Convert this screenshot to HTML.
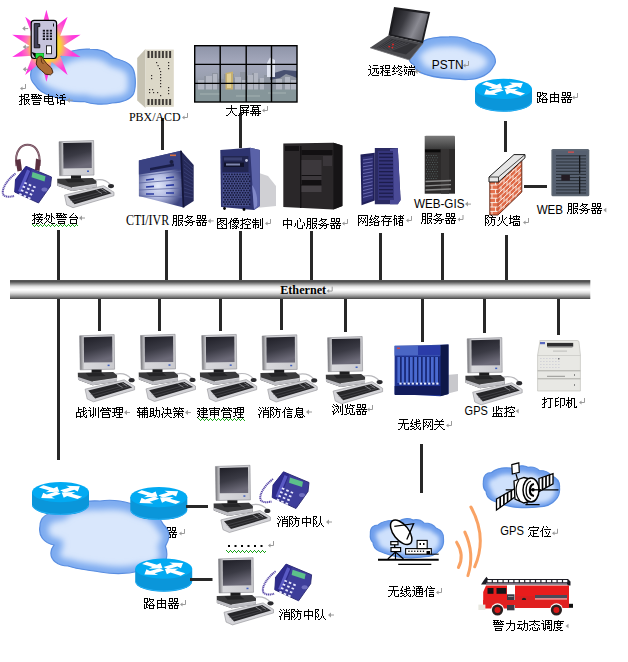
<!DOCTYPE html><html><head><meta charset="utf-8"><title>Network diagram</title><style>html,body{margin:0;padding:0;background:#fff;width:628px;height:662px;overflow:hidden;font-family:"Liberation Sans",sans-serif}</style></head><body><svg width="628" height="662" viewBox="0 0 628 662" style="position:absolute;left:0;top:0;display:block"><defs>
<linearGradient id="gbar" x1="0" y1="0" x2="0" y2="1"><stop offset="0.026" stop-color="#545454"/><stop offset="0.079" stop-color="#505050"/><stop offset="0.132" stop-color="#686868"/><stop offset="0.184" stop-color="#868686"/><stop offset="0.237" stop-color="#a6a6a6"/><stop offset="0.289" stop-color="#c6c6c6"/><stop offset="0.342" stop-color="#dedede"/><stop offset="0.395" stop-color="#ececec"/><stop offset="0.447" stop-color="#f5f5f5"/><stop offset="0.500" stop-color="#fcfcfc"/><stop offset="0.553" stop-color="#f8f8f8"/><stop offset="0.605" stop-color="#eeeeee"/><stop offset="0.658" stop-color="#e2e2e2"/><stop offset="0.711" stop-color="#d0d0d0"/><stop offset="0.763" stop-color="#bababa"/><stop offset="0.816" stop-color="#a2a2a2"/><stop offset="0.868" stop-color="#8a8a8a"/><stop offset="0.921" stop-color="#707070"/><stop offset="0.974" stop-color="#505050"/></linearGradient>
<linearGradient id="gscr" x1="0" y1="0" x2="0.3" y2="1">
 <stop offset="0" stop-color="#1e1e26"/><stop offset="0.55" stop-color="#3a3a44"/><stop offset="1" stop-color="#6c6a78"/>
</linearGradient>
<linearGradient id="gmon" x1="0" y1="0" x2="1" y2="0">
 <stop offset="0" stop-color="#6e6e72"/><stop offset="0.07" stop-color="#a4a4a8"/><stop offset="0.14" stop-color="#d8d8dc"/><stop offset="1" stop-color="#cacace"/>
</linearGradient>
<linearGradient id="gcpu" x1="0" y1="0" x2="0" y2="1">
 <stop offset="0" stop-color="#505052"/><stop offset="1" stop-color="#2a2a2c"/>
</linearGradient>
<radialGradient id="gstar" cx="0.5" cy="0.5" r="0.5">
 <stop offset="0" stop-color="#ffec40"/><stop offset="0.42" stop-color="#f8d038"/>
 <stop offset="0.6" stop-color="#ff78b8"/><stop offset="0.78" stop-color="#ff40d8"/><stop offset="1" stop-color="#ff30e8"/>
</radialGradient>
<linearGradient id="gcti" x1="0" y1="0" x2="1" y2="0">
 <stop offset="0" stop-color="#3a4280"/><stop offset="0.45" stop-color="#b8c0e0"/><stop offset="1" stop-color="#3a4078"/>
</linearGradient>
<linearGradient id="gvw" x1="0" y1="0" x2="0" y2="1">
 <stop offset="0" stop-color="#8e94a8"/><stop offset="0.3" stop-color="#a4a8bc"/><stop offset="0.55" stop-color="#9aa0b0"/>
 <stop offset="0.8" stop-color="#7e8890"/><stop offset="1" stop-color="#8a9898"/>
</linearGradient>
<linearGradient id="gtow" x1="0" y1="0" x2="1" y2="0">
 <stop offset="0" stop-color="#2c3068"/><stop offset="1" stop-color="#3c4488"/>
</linearGradient>
<linearGradient id="ggw" x1="0" y1="0" x2="0" y2="1">
 <stop offset="0" stop-color="#3050a8"/><stop offset="0.5" stop-color="#2040a0"/><stop offset="1" stop-color="#102060"/>
</linearGradient>
<linearGradient id="glap" x1="0" y1="0.2" x2="1" y2="0.6">
 <stop offset="0" stop-color="#18181c"/><stop offset="0.35" stop-color="#3a3a40"/><stop offset="0.7" stop-color="#8a8a92"/><stop offset="1" stop-color="#5a5a60"/>
</linearGradient>
</defs><defs><g id="router"><path d="M0 10.1 V23 A28.5 10.1 0 0 0 57 23 V10.1 Z" fill="#0a96da"/><path d="M0.6 23.6 A28 9.6 0 0 0 56.4 23.6" fill="none" stroke="#2ab2f8" stroke-width="0.9"/><ellipse cx="28.5" cy="10.1" rx="28.5" ry="10.1" fill="#02aaf2"/><polygon points="6.89,5.44 17.13,8.52 13.59,10.26 27.32,9.75 25.29,4.51 21.75,6.25 11.50,3.17" fill="#fff"/><polygon points="28.16,8.37 37.62,5.54 34.08,3.80 47.81,4.31 45.77,9.55 42.23,7.81 32.78,10.64" fill="#fff"/><polygon points="28.84,11.83 19.38,14.66 22.92,16.40 9.19,15.89 11.23,10.65 14.77,12.39 24.22,9.56" fill="#fff"/><polygon points="50.11,14.76 39.87,11.68 43.41,9.94 29.68,10.45 31.71,15.69 35.25,13.95 45.50,17.03" fill="#fff"/></g><g id="pc"><path d="M36 39.5 C44 38 48 40 51.5 44" fill="none" stroke="#b8b8bc" stroke-width="1.2"/><path d="M0 1.2 L34.6 0 L35 34.6 L0.6 35.2 Z" fill="url(#gmon)" stroke="#8a8a90" stroke-width="0.6"/><path d="M4.2 2.6 L32.6 2 L32.8 27.6 L4.4 28 Z" fill="url(#gscr)"/><rect x="28" y="30" width="2" height="1.5" fill="#4060c0"/><path d="M12 35 H22 V39 H12 Z" fill="#1c1c1e"/><path d="M-1.8 38.2 L33.6 37.4 L37.5 40.6 L37.4 46.8 L13 50.6 L-1.6 45.2 Z" fill="#3a3a3c"/><path d="M-1.6 42.4 L13 47.2 L37.4 43.6 L37.4 46.8 L13 50.6 L-1.6 45.2 Z" fill="#bdbdc2"/><path d="M13 47.2 L37.4 43.6" stroke="#e8e8ec" stroke-width="0.8"/><path d="M6 38.5 L22 38.2 L26 41.5 L9 42 Z" fill="#242426"/><path d="M5.5 54.6 L44.6 45.2 L55 51.8 L55 55.2 L14 67.2 L7.6 64.4 Z" fill="#d4d4d8" stroke="#8e8e94" stroke-width="0.6"/><path d="M8.6 56 L43.6 47.4 L52.6 52.8 L15.6 63.8 Z" fill="#262629"/><path d="M11 59.8 L46.5 50.4 M13.2 62 L49.6 51.8" stroke="#5a5a60" stroke-width="0.5"/><path d="M37 49.2 L43 53 M42 48 L47.6 51.6" stroke="#a8a8ae" stroke-width="0.7"/><ellipse cx="52" cy="45.6" rx="3" ry="2.1" fill="#2a2a2e"/></g><g id="phone"><path d="M14 8 C6 14 0 23 1.5 28.5 C3 32 9 31.5 12.5 30.5" fill="none" stroke="#5a4aa8" stroke-width="2" stroke-dasharray="1.2 0.6"/><path d="M24.5 0.8 L50 11.5 L49 20.5 L37 37.5 L13.2 26.5 L14 14 Z" fill="#3e3e9a" stroke="#28266e" stroke-width="0.9"/><path d="M24.5 0.8 L30.5 3.6 L20.2 29.5 L13.2 26.5 L14 14 Z" fill="#2e2c8c"/><path d="M25.6 4 L28.6 5.4 L19.5 27 L16.6 25.6 Z" fill="#5a5ac4"/><path d="M31 6.4 L44 10.7 L43 16 L30 11.8 Z" fill="#5cc08a"/><rect x="23.2" y="16.4" width="2.6" height="1.8" fill="#e8e8ff" transform="rotate(22 23.2 16.4)"/><rect x="27.6" y="18.3" width="2.6" height="1.8" fill="#e8e8ff" transform="rotate(22 27.6 18.3)"/><rect x="32.0" y="20.2" width="2.6" height="1.8" fill="#e8e8ff" transform="rotate(22 32.0 20.2)"/><rect x="21.5" y="20.1" width="2.6" height="1.8" fill="#e8e8ff" transform="rotate(22 21.5 20.1)"/><rect x="25.9" y="22.0" width="2.6" height="1.8" fill="#e8e8ff" transform="rotate(22 25.9 22.0)"/><rect x="30.3" y="23.9" width="2.6" height="1.8" fill="#e8e8ff" transform="rotate(22 30.3 23.9)"/><rect x="19.8" y="23.8" width="2.6" height="1.8" fill="#e8e8ff" transform="rotate(22 19.8 23.8)"/><rect x="24.2" y="25.7" width="2.6" height="1.8" fill="#e8e8ff" transform="rotate(22 24.2 25.7)"/><rect x="28.6" y="27.6" width="2.6" height="1.8" fill="#e8e8ff" transform="rotate(22 28.6 27.6)"/><rect x="18.1" y="27.5" width="2.6" height="1.8" fill="#e8e8ff" transform="rotate(22 18.1 27.5)"/><rect x="22.5" y="29.4" width="2.6" height="1.8" fill="#e8e8ff" transform="rotate(22 22.5 29.4)"/><rect x="26.9" y="31.3" width="2.6" height="1.8" fill="#e8e8ff" transform="rotate(22 26.9 31.3)"/><ellipse cx="43" cy="24" rx="3" ry="2" fill="#7070c0"/></g></defs><clipPath id="cc1"><path d="M31 72 C32 63 44 58 58 58 C66 51 80 48.5 90 49.2 C100 49.2 108 52 113 57.5 C118 60 126 60 131 66 C136 71 136.5 86 133.5 94 C130 100 122 102.5 112 103 C104 105 92 104.5 84 101.5 C76 102 62 100.5 52 96 C44 94 38 90 35 85 C31 81 30 76 31 72 Z"/></clipPath><filter id="cf1" x="-20%" y="-20%" width="140%" height="140%"><feGaussianBlur stdDeviation="3.0"/></filter><path d="M31 72 C32 63 44 58 58 58 C66 51 80 48.5 90 49.2 C100 49.2 108 52 113 57.5 C118 60 126 60 131 66 C136 71 136.5 86 133.5 94 C130 100 122 102.5 112 103 C104 105 92 104.5 84 101.5 C76 102 62 100.5 52 96 C44 94 38 90 35 85 C31 81 30 76 31 72 Z" fill="#d9e7fc"/><g clip-path="url(#cc1)"><path d="M31 72 C32 63 44 58 58 58 C66 51 80 48.5 90 49.2 C100 49.2 108 52 113 57.5 C118 60 126 60 131 66 C136 71 136.5 86 133.5 94 C130 100 122 102.5 112 103 C104 105 92 104.5 84 101.5 C76 102 62 100.5 52 96 C44 94 38 90 35 85 C31 81 30 76 31 72 Z" fill="none" stroke="#7eacf0" stroke-width="16.0" filter="url(#cf1)" transform="translate(0.8 1.2)"/></g><path d="M31 72 C32 63 44 58 58 58 C66 51 80 48.5 90 49.2 C100 49.2 108 52 113 57.5 C118 60 126 60 131 66 C136 71 136.5 86 133.5 94 C130 100 122 102.5 112 103 C104 105 92 104.5 84 101.5 C76 102 62 100.5 52 96 C44 94 38 90 35 85 C31 81 30 76 31 72 Z" fill="none" stroke="#5a8ee0" stroke-width="1.2"/><polygon points="46.4,9.8 51.7,29.6 67.6,16.7 60.2,35.8 80.6,34.7 63.4,45.8 80.6,56.9 60.2,55.8 67.6,74.9 51.7,62.0 46.4,81.8 41.1,62.0 25.2,74.9 32.6,55.8 12.2,56.9 29.4,45.8 12.2,34.7 32.6,35.8 25.2,16.7 41.1,29.6" fill="url(#gstar)"/><rect x="31.2" y="20.3" width="25.4" height="38.2" rx="3" fill="#c6c4dc" stroke="#000" stroke-width="1.2"/><path d="M34.2 23.6 h5.6 v3 h-2 v18 h2 v3.2 h-5.6 z" fill="#404058" stroke="#000" stroke-width="0.8"/><rect x="42.8" y="29.8" width="2.2" height="1.8" fill="#101018"/><rect x="46.3" y="29.8" width="2.2" height="1.8" fill="#101018"/><rect x="49.8" y="29.8" width="2.2" height="1.8" fill="#101018"/><rect x="42.8" y="32.6" width="2.2" height="1.8" fill="#101018"/><rect x="46.3" y="32.6" width="2.2" height="1.8" fill="#101018"/><rect x="49.8" y="32.6" width="2.2" height="1.8" fill="#101018"/><rect x="42.8" y="35.4" width="2.2" height="1.8" fill="#101018"/><rect x="46.3" y="35.4" width="2.2" height="1.8" fill="#101018"/><rect x="49.8" y="35.4" width="2.2" height="1.8" fill="#101018"/><rect x="42.8" y="38.2" width="2.2" height="1.8" fill="#101018"/><rect x="46.3" y="38.2" width="2.2" height="1.8" fill="#101018"/><rect x="49.8" y="38.2" width="2.2" height="1.8" fill="#101018"/><rect x="53" y="23.5" width="0.9" height="3" fill="#000"/><rect x="46.4" y="45.8" width="5" height="8" fill="#fff" stroke="#000" stroke-width="0.8"/><path d="M31.5 52 L35 53 L44 53 L44 58.5 L35.5 58.5 Z" fill="#000"/><rect x="35.6" y="53.2" width="8.2" height="5.4" fill="#20e040"/><path d="M37 58.5 L39.5 56 L42 56.5 L43.5 59.5 L46.5 63.5 L51.5 68 L53 72.5 L50.5 74.8 L45.5 74.2 L41.5 70.5 L38.5 68 L36.2 64 Z" fill="#ac6c36" stroke="#3a1a06" stroke-width="0.9"/><path d="M41 57 L41.5 62 L43.5 64" fill="none" stroke="#3a1a06" stroke-width="0.7"/><path d="M137.2 58 L145.5 49 L145.5 108 L137.2 100.4 Z" fill="#c6c2b2"/><rect x="145.5" y="49.6" width="28.3" height="57.2" fill="#dcd8c8"/><rect x="147.5" y="51" width="2" height="7" fill="#403c38"/><rect x="151.1" y="51" width="2" height="7" fill="#403c38"/><rect x="154.7" y="51" width="2" height="7" fill="#403c38"/><rect x="158.3" y="51" width="2" height="7" fill="#403c38"/><rect x="161.9" y="51" width="2" height="7" fill="#403c38"/><rect x="165.5" y="51" width="2" height="7" fill="#403c38"/><rect x="169.1" y="51" width="2" height="7" fill="#403c38"/><rect x="147.5" y="99" width="2" height="6" fill="#403c38"/><rect x="151.1" y="99" width="2" height="6" fill="#403c38"/><rect x="154.7" y="99" width="2" height="6" fill="#403c38"/><rect x="158.3" y="99" width="2" height="6" fill="#403c38"/><rect x="161.9" y="99" width="2" height="6" fill="#403c38"/><rect x="165.5" y="99" width="2" height="6" fill="#403c38"/><rect x="169.1" y="99" width="2" height="6" fill="#403c38"/><rect x="156.0" y="62.0" width="1.2" height="1.2" fill="#302c28"/><rect x="157.5" y="65.0" width="1.2" height="1.2" fill="#302c28"/><rect x="159.0" y="68.0" width="1.2" height="1.2" fill="#302c28"/><rect x="160.0" y="71.0" width="1.2" height="1.2" fill="#302c28"/><rect x="160.0" y="74.0" width="1.2" height="1.2" fill="#302c28"/><rect x="160.0" y="77.0" width="1.2" height="1.2" fill="#302c28"/><rect x="160.0" y="80.0" width="1.2" height="1.2" fill="#302c28"/><rect x="160.0" y="83.0" width="1.2" height="1.2" fill="#302c28"/><rect x="160.0" y="86.0" width="1.2" height="1.2" fill="#302c28"/><rect x="168.0" y="62.0" width="1.2" height="1.2" fill="#302c28"/><rect x="168.0" y="65.0" width="1.2" height="1.2" fill="#302c28"/><rect x="168.0" y="68.0" width="1.2" height="1.2" fill="#302c28"/><rect x="151.0" y="75.0" width="1.2" height="1.2" fill="#302c28"/><rect x="151.0" y="78.0" width="1.2" height="1.2" fill="#302c28"/><rect x="149.0" y="89.0" width="1.2" height="1.2" fill="#302c28"/><rect x="152.0" y="89.0" width="1.2" height="1.2" fill="#302c28"/><rect x="157.0" y="92.0" width="1.2" height="1.2" fill="#302c28"/><rect x="160.0" y="95.0" width="1.2" height="1.2" fill="#302c28"/><rect x="168.0" y="87.0" width="1.2" height="1.2" fill="#302c28"/><rect x="168.0" y="90.0" width="1.2" height="1.2" fill="#302c28"/><rect x="168.0" y="93.0" width="1.2" height="1.2" fill="#302c28"/><rect x="149.0" y="92.0" width="1.2" height="1.2" fill="#302c28"/><rect x="153.0" y="92.0" width="1.2" height="1.2" fill="#302c28"/><rect x="194.7" y="45.7" width="102.3" height="56.3" fill="url(#gvw)"/><path d="M262 84 L268 78 L274 73 L284 70 L297 71 L297 86 L262 86 Z" fill="#485070"/><path d="M195 84 L198 80 L204 80 L204 76 L212 76 L212 73 L218 73 L218 79 L224 79 L224 74 L234 74 L234 78 L240 78 L240 72 L246 72 L246 76 L252 76 L252 73 L258 73 L258 79 L264 79 L264 75 L270 75 L270 80 L280 78 L286 74 L292 76 L297 78 L297 91 L195 91 Z" fill="#8e94a0"/><path d="M198 80 h6 v10 h-6z M206 76 h6 v14 h-6z M213 74 h4 v16 h-4z M235 77 h6 v13 h-6z M242 80 h5 v10 h-5z M248 75 h5 v15 h-5z M254 73 h4 v17 h-4z M260 78 h4 v12 h-4z M276 79 h6 v11 h-6z M285 77 h5 v13 h-5z M291 80 h5 v10 h-5z" fill="#b2b6c2"/><path d="M225.5 73 L233 71.6 L233 90 L225.5 90 Z" fill="#c6b070"/><path d="M227 74 L231 73.2 L231 88 L227 88 Z" fill="#e2d096"/><path d="M267 63 L270 57.4 L275 60 L275 77 L267 77 Z" fill="#dfe3f0"/><rect x="194.7" y="89.5" width="102.3" height="12.5" fill="#86969a"/><path d="M200 94 h20 M236 96 h24 M268 93 h18" stroke="#a4b2b2" stroke-width="1"/><g fill="none" stroke="#000" stroke-width="1.4"><rect x="194.7" y="45.7" width="102.3" height="56.3"/><path d="M220.2 45.7 V102 M246.2 45.7 V102 M271.5 45.7 V102 M194.7 64.4 H297 M194.7 83.4 H297"/></g><clipPath id="cc2"><path d="M409.5 58 C411 50 416 44 423 41.3 C430 37 440 36.8 449 36.8 C458 36.5 466 38 471.6 42 C482 44 490 49 494 55.7 C496 60 495.5 64 493.5 66.3 C490 74 480 79 468.5 79.5 C462 80 456 79 450 78.4 C440 78 428 76 420 72.4 C416 70 414 68 414 64.8 C410 63 409 61 409.5 58 Z"/></clipPath><filter id="cf2" x="-20%" y="-20%" width="140%" height="140%"><feGaussianBlur stdDeviation="3.0"/></filter><path d="M409.5 58 C411 50 416 44 423 41.3 C430 37 440 36.8 449 36.8 C458 36.5 466 38 471.6 42 C482 44 490 49 494 55.7 C496 60 495.5 64 493.5 66.3 C490 74 480 79 468.5 79.5 C462 80 456 79 450 78.4 C440 78 428 76 420 72.4 C416 70 414 68 414 64.8 C410 63 409 61 409.5 58 Z" fill="#d9e7fc"/><g clip-path="url(#cc2)"><path d="M409.5 58 C411 50 416 44 423 41.3 C430 37 440 36.8 449 36.8 C458 36.5 466 38 471.6 42 C482 44 490 49 494 55.7 C496 60 495.5 64 493.5 66.3 C490 74 480 79 468.5 79.5 C462 80 456 79 450 78.4 C440 78 428 76 420 72.4 C416 70 414 68 414 64.8 C410 63 409 61 409.5 58 Z" fill="none" stroke="#7eacf0" stroke-width="16.0" filter="url(#cf2)" transform="translate(0.8 1.2)"/></g><path d="M409.5 58 C411 50 416 44 423 41.3 C430 37 440 36.8 449 36.8 C458 36.5 466 38 471.6 42 C482 44 490 49 494 55.7 C496 60 495.5 64 493.5 66.3 C490 74 480 79 468.5 79.5 C462 80 456 79 450 78.4 C440 78 428 76 420 72.4 C416 70 414 68 414 64.8 C410 63 409 61 409.5 58 Z" fill="none" stroke="#5a8ee0" stroke-width="1.2"/><path d="M370 47.7 L388.4 35.4 L423 43.2 L409.5 60 Z" fill="#4a4a4e"/><path d="M370 47.7 L409.5 60 L423 43.2" fill="none" stroke="#707074" stroke-width="0.8"/><path d="M377 47.5 L390.5 38.5 L418 44.5 L406 54.5 Z" fill="#323236"/><path d="M378.0 48.0 L391.5 39.0" stroke="#56565c" stroke-width="0.6"/><path d="M379.5 48.7 L394.5 39.7" stroke="#56565c" stroke-width="0.6"/><path d="M381.0 49.4 L397.5 40.4" stroke="#56565c" stroke-width="0.6"/><path d="M382.5 50.1 L400.5 41.1" stroke="#56565c" stroke-width="0.6"/><path d="M384.0 50.8 L403.5 41.8" stroke="#56565c" stroke-width="0.6"/><path d="M385.5 51.5 L406.5 42.5" stroke="#56565c" stroke-width="0.6"/><path d="M387.0 52.2 L409.5 43.2" stroke="#56565c" stroke-width="0.6"/><circle cx="393" cy="44.4" r="1" fill="#e02828"/><circle cx="389.2" cy="46.6" r="0.9" fill="#e02828"/><circle cx="392.4" cy="47.6" r="0.9" fill="#e02828"/><path d="M394 7 L430.2 12 L423 43.2 L388.4 35.4 Z" fill="#1c1c20"/><path d="M396.2 9.6 L428 13.9 L421.6 40.8 L391.2 34.2 Z" fill="url(#glap)"/><use href="#router" x="475" y="78.7"/><path d="M16.5 166 C14 150 22 144.8 27.5 144.8 C34 144.8 41 150 39.5 166" fill="none" stroke="#6a4050" stroke-width="2"/><path d="M16.5 166 C14 150 22 144.8 27.5 144.8 C34 144.8 41 150 39.5 166" fill="none" stroke="#b09aa4" stroke-width="0.6"/><use href="#phone" x="1.5" y="165.5"/><path d="M15.5 160 L20.5 159 L22 170.5 L17.5 171.5 Z" fill="#5a3040"/><path d="M36 158.5 L40.5 160 L39.5 171 L35 170 Z" fill="#5a3040"/><use href="#pc" x="59" y="140.5"/><radialGradient id="gcti2" gradientUnits="userSpaceOnUse" cx="158" cy="186" r="26"><stop offset="0" stop-color="#e2e8fa"/><stop offset="0.45" stop-color="#b4bce2"/><stop offset="1" stop-color="#3c4480"/></radialGradient><path d="M181 150.8 L193.7 165 L193.7 201 L183.5 207.5 Z" fill="#262a5a"/><path d="M184 160.0 L193 168.0" stroke="#3c4278" stroke-width="0.8"/><path d="M184 164.0 L193 171.3" stroke="#3c4278" stroke-width="0.8"/><path d="M184 168.0 L193 174.6" stroke="#3c4278" stroke-width="0.8"/><path d="M184 172.0 L193 177.9" stroke="#3c4278" stroke-width="0.8"/><path d="M184 176.0 L193 181.2" stroke="#3c4278" stroke-width="0.8"/><path d="M184 180.0 L193 184.5" stroke="#3c4278" stroke-width="0.8"/><path d="M184 184.0 L193 187.8" stroke="#3c4278" stroke-width="0.8"/><path d="M184 188.0 L193 191.1" stroke="#3c4278" stroke-width="0.8"/><path d="M184 192.0 L193 194.4" stroke="#3c4278" stroke-width="0.8"/><path d="M184 196.0 L193 197.7" stroke="#3c4278" stroke-width="0.8"/><path d="M138.9 160.4 L181 150.8 L183.5 207.5 L138.9 196 Z" fill="url(#gcti2)"/><path d="M138.9 160.4 L181 150.8 L181.6 168.5 L138.9 174.5 Z" fill="#3a4282"/><path d="M150 168 L174 163.6 L174 166.2 L150 170.4 Z" fill="#1a1e48"/><circle cx="171.5" cy="162" r="2" fill="#1a1e40"/><rect x="170" y="154.5" width="6" height="1.6" fill="#d87040"/><path d="M139 176 L181.6 171 M139 183 L182 179.5 M139 190 L182.5 188 M139 196 L183 197" stroke="#5a64a0" stroke-width="0.8"/><path d="M146 180 l8 -1 M166 178 l8 -1 M146 187 l8 -0.6 M166 185.5 l8 -0.6 M146 194 l8 0 M166 193 l8 0" stroke="#2a3aa0" stroke-width="1.6"/><path d="M181 150.8 L183.5 207.5" stroke="#14163a" stroke-width="1.8"/><path d="M256 172 L268 176 L276 186 L276 206 L256 208 Z" fill="#d0d0d4"/><path d="M220.3 150 L250 147.7 L259.8 150 L259.8 206 L254 210 L221 207 Z" fill="#2e3470"/><path d="M250 147.7 L259.8 150 L259.8 206 L254 210 Z" fill="#5a62a8"/><path d="M252 185 C256 190 258 198 257 206 L254 209 Z" fill="#8088c8"/><rect x="222.5" y="156" width="26" height="16" fill="#222650"/><rect x="224" y="157.5" width="18" height="3" fill="#3a4070"/><rect x="224" y="162.5" width="20" height="4.5" fill="#10122a"/><rect x="226" y="163.5" width="14" height="2" fill="#8088b0"/><circle cx="246.5" cy="160.5" r="1.4" fill="#c0c4e0"/><rect x="222.5" y="173" width="27" height="33" fill="#4a5290"/><rect x="223.0" y="173.6" width="1.6" height="1.6" fill="#14183a"/><rect x="225.7" y="173.6" width="1.6" height="1.6" fill="#14183a"/><rect x="228.4" y="173.6" width="1.6" height="1.6" fill="#14183a"/><rect x="231.1" y="173.6" width="1.6" height="1.6" fill="#14183a"/><rect x="233.8" y="173.6" width="1.6" height="1.6" fill="#14183a"/><rect x="236.5" y="173.6" width="1.6" height="1.6" fill="#14183a"/><rect x="239.2" y="173.6" width="1.6" height="1.6" fill="#14183a"/><rect x="241.9" y="173.6" width="1.6" height="1.6" fill="#14183a"/><rect x="244.6" y="173.6" width="1.6" height="1.6" fill="#14183a"/><rect x="247.3" y="173.6" width="1.6" height="1.6" fill="#14183a"/><rect x="224.3" y="175.9" width="1.6" height="1.6" fill="#14183a"/><rect x="227.0" y="175.9" width="1.6" height="1.6" fill="#14183a"/><rect x="229.8" y="175.9" width="1.6" height="1.6" fill="#14183a"/><rect x="232.4" y="175.9" width="1.6" height="1.6" fill="#14183a"/><rect x="235.2" y="175.9" width="1.6" height="1.6" fill="#14183a"/><rect x="237.8" y="175.9" width="1.6" height="1.6" fill="#14183a"/><rect x="240.5" y="175.9" width="1.6" height="1.6" fill="#14183a"/><rect x="243.2" y="175.9" width="1.6" height="1.6" fill="#14183a"/><rect x="245.9" y="175.9" width="1.6" height="1.6" fill="#14183a"/><rect x="248.7" y="175.9" width="1.6" height="1.6" fill="#14183a"/><rect x="223.0" y="178.2" width="1.6" height="1.6" fill="#14183a"/><rect x="225.7" y="178.2" width="1.6" height="1.6" fill="#14183a"/><rect x="228.4" y="178.2" width="1.6" height="1.6" fill="#14183a"/><rect x="231.1" y="178.2" width="1.6" height="1.6" fill="#14183a"/><rect x="233.8" y="178.2" width="1.6" height="1.6" fill="#14183a"/><rect x="236.5" y="178.2" width="1.6" height="1.6" fill="#14183a"/><rect x="239.2" y="178.2" width="1.6" height="1.6" fill="#14183a"/><rect x="241.9" y="178.2" width="1.6" height="1.6" fill="#14183a"/><rect x="244.6" y="178.2" width="1.6" height="1.6" fill="#14183a"/><rect x="247.3" y="178.2" width="1.6" height="1.6" fill="#14183a"/><rect x="224.3" y="180.5" width="1.6" height="1.6" fill="#14183a"/><rect x="227.0" y="180.5" width="1.6" height="1.6" fill="#14183a"/><rect x="229.8" y="180.5" width="1.6" height="1.6" fill="#14183a"/><rect x="232.4" y="180.5" width="1.6" height="1.6" fill="#14183a"/><rect x="235.2" y="180.5" width="1.6" height="1.6" fill="#14183a"/><rect x="237.8" y="180.5" width="1.6" height="1.6" fill="#14183a"/><rect x="240.5" y="180.5" width="1.6" height="1.6" fill="#14183a"/><rect x="243.2" y="180.5" width="1.6" height="1.6" fill="#14183a"/><rect x="245.9" y="180.5" width="1.6" height="1.6" fill="#14183a"/><rect x="248.7" y="180.5" width="1.6" height="1.6" fill="#14183a"/><rect x="223.0" y="182.8" width="1.6" height="1.6" fill="#14183a"/><rect x="225.7" y="182.8" width="1.6" height="1.6" fill="#14183a"/><rect x="228.4" y="182.8" width="1.6" height="1.6" fill="#14183a"/><rect x="231.1" y="182.8" width="1.6" height="1.6" fill="#14183a"/><rect x="233.8" y="182.8" width="1.6" height="1.6" fill="#14183a"/><rect x="236.5" y="182.8" width="1.6" height="1.6" fill="#14183a"/><rect x="239.2" y="182.8" width="1.6" height="1.6" fill="#14183a"/><rect x="241.9" y="182.8" width="1.6" height="1.6" fill="#14183a"/><rect x="244.6" y="182.8" width="1.6" height="1.6" fill="#14183a"/><rect x="247.3" y="182.8" width="1.6" height="1.6" fill="#14183a"/><rect x="224.3" y="185.1" width="1.6" height="1.6" fill="#14183a"/><rect x="227.0" y="185.1" width="1.6" height="1.6" fill="#14183a"/><rect x="229.8" y="185.1" width="1.6" height="1.6" fill="#14183a"/><rect x="232.4" y="185.1" width="1.6" height="1.6" fill="#14183a"/><rect x="235.2" y="185.1" width="1.6" height="1.6" fill="#14183a"/><rect x="237.8" y="185.1" width="1.6" height="1.6" fill="#14183a"/><rect x="240.5" y="185.1" width="1.6" height="1.6" fill="#14183a"/><rect x="243.2" y="185.1" width="1.6" height="1.6" fill="#14183a"/><rect x="245.9" y="185.1" width="1.6" height="1.6" fill="#14183a"/><rect x="248.7" y="185.1" width="1.6" height="1.6" fill="#14183a"/><rect x="223.0" y="187.4" width="1.6" height="1.6" fill="#14183a"/><rect x="225.7" y="187.4" width="1.6" height="1.6" fill="#14183a"/><rect x="228.4" y="187.4" width="1.6" height="1.6" fill="#14183a"/><rect x="231.1" y="187.4" width="1.6" height="1.6" fill="#14183a"/><rect x="233.8" y="187.4" width="1.6" height="1.6" fill="#14183a"/><rect x="236.5" y="187.4" width="1.6" height="1.6" fill="#14183a"/><rect x="239.2" y="187.4" width="1.6" height="1.6" fill="#14183a"/><rect x="241.9" y="187.4" width="1.6" height="1.6" fill="#14183a"/><rect x="244.6" y="187.4" width="1.6" height="1.6" fill="#14183a"/><rect x="247.3" y="187.4" width="1.6" height="1.6" fill="#14183a"/><rect x="224.3" y="189.7" width="1.6" height="1.6" fill="#14183a"/><rect x="227.0" y="189.7" width="1.6" height="1.6" fill="#14183a"/><rect x="229.8" y="189.7" width="1.6" height="1.6" fill="#14183a"/><rect x="232.4" y="189.7" width="1.6" height="1.6" fill="#14183a"/><rect x="235.2" y="189.7" width="1.6" height="1.6" fill="#14183a"/><rect x="237.8" y="189.7" width="1.6" height="1.6" fill="#14183a"/><rect x="240.5" y="189.7" width="1.6" height="1.6" fill="#14183a"/><rect x="243.2" y="189.7" width="1.6" height="1.6" fill="#14183a"/><rect x="245.9" y="189.7" width="1.6" height="1.6" fill="#14183a"/><rect x="248.7" y="189.7" width="1.6" height="1.6" fill="#14183a"/><rect x="223.0" y="192.0" width="1.6" height="1.6" fill="#14183a"/><rect x="225.7" y="192.0" width="1.6" height="1.6" fill="#14183a"/><rect x="228.4" y="192.0" width="1.6" height="1.6" fill="#14183a"/><rect x="231.1" y="192.0" width="1.6" height="1.6" fill="#14183a"/><rect x="233.8" y="192.0" width="1.6" height="1.6" fill="#14183a"/><rect x="236.5" y="192.0" width="1.6" height="1.6" fill="#14183a"/><rect x="239.2" y="192.0" width="1.6" height="1.6" fill="#14183a"/><rect x="241.9" y="192.0" width="1.6" height="1.6" fill="#14183a"/><rect x="244.6" y="192.0" width="1.6" height="1.6" fill="#14183a"/><rect x="247.3" y="192.0" width="1.6" height="1.6" fill="#14183a"/><rect x="224.3" y="194.3" width="1.6" height="1.6" fill="#14183a"/><rect x="227.0" y="194.3" width="1.6" height="1.6" fill="#14183a"/><rect x="229.8" y="194.3" width="1.6" height="1.6" fill="#14183a"/><rect x="232.4" y="194.3" width="1.6" height="1.6" fill="#14183a"/><rect x="235.2" y="194.3" width="1.6" height="1.6" fill="#14183a"/><rect x="237.8" y="194.3" width="1.6" height="1.6" fill="#14183a"/><rect x="240.5" y="194.3" width="1.6" height="1.6" fill="#14183a"/><rect x="243.2" y="194.3" width="1.6" height="1.6" fill="#14183a"/><rect x="245.9" y="194.3" width="1.6" height="1.6" fill="#14183a"/><rect x="248.7" y="194.3" width="1.6" height="1.6" fill="#14183a"/><rect x="223.0" y="196.6" width="1.6" height="1.6" fill="#14183a"/><rect x="225.7" y="196.6" width="1.6" height="1.6" fill="#14183a"/><rect x="228.4" y="196.6" width="1.6" height="1.6" fill="#14183a"/><rect x="231.1" y="196.6" width="1.6" height="1.6" fill="#14183a"/><rect x="233.8" y="196.6" width="1.6" height="1.6" fill="#14183a"/><rect x="236.5" y="196.6" width="1.6" height="1.6" fill="#14183a"/><rect x="239.2" y="196.6" width="1.6" height="1.6" fill="#14183a"/><rect x="241.9" y="196.6" width="1.6" height="1.6" fill="#14183a"/><rect x="244.6" y="196.6" width="1.6" height="1.6" fill="#14183a"/><rect x="247.3" y="196.6" width="1.6" height="1.6" fill="#14183a"/><rect x="224.3" y="198.9" width="1.6" height="1.6" fill="#14183a"/><rect x="227.0" y="198.9" width="1.6" height="1.6" fill="#14183a"/><rect x="229.8" y="198.9" width="1.6" height="1.6" fill="#14183a"/><rect x="232.4" y="198.9" width="1.6" height="1.6" fill="#14183a"/><rect x="235.2" y="198.9" width="1.6" height="1.6" fill="#14183a"/><rect x="237.8" y="198.9" width="1.6" height="1.6" fill="#14183a"/><rect x="240.5" y="198.9" width="1.6" height="1.6" fill="#14183a"/><rect x="243.2" y="198.9" width="1.6" height="1.6" fill="#14183a"/><rect x="245.9" y="198.9" width="1.6" height="1.6" fill="#14183a"/><rect x="248.7" y="198.9" width="1.6" height="1.6" fill="#14183a"/><rect x="223.0" y="201.2" width="1.6" height="1.6" fill="#14183a"/><rect x="225.7" y="201.2" width="1.6" height="1.6" fill="#14183a"/><rect x="228.4" y="201.2" width="1.6" height="1.6" fill="#14183a"/><rect x="231.1" y="201.2" width="1.6" height="1.6" fill="#14183a"/><rect x="233.8" y="201.2" width="1.6" height="1.6" fill="#14183a"/><rect x="236.5" y="201.2" width="1.6" height="1.6" fill="#14183a"/><rect x="239.2" y="201.2" width="1.6" height="1.6" fill="#14183a"/><rect x="241.9" y="201.2" width="1.6" height="1.6" fill="#14183a"/><rect x="244.6" y="201.2" width="1.6" height="1.6" fill="#14183a"/><rect x="247.3" y="201.2" width="1.6" height="1.6" fill="#14183a"/><rect x="224.3" y="203.5" width="1.6" height="1.6" fill="#14183a"/><rect x="227.0" y="203.5" width="1.6" height="1.6" fill="#14183a"/><rect x="229.8" y="203.5" width="1.6" height="1.6" fill="#14183a"/><rect x="232.4" y="203.5" width="1.6" height="1.6" fill="#14183a"/><rect x="235.2" y="203.5" width="1.6" height="1.6" fill="#14183a"/><rect x="237.8" y="203.5" width="1.6" height="1.6" fill="#14183a"/><rect x="240.5" y="203.5" width="1.6" height="1.6" fill="#14183a"/><rect x="243.2" y="203.5" width="1.6" height="1.6" fill="#14183a"/><rect x="245.9" y="203.5" width="1.6" height="1.6" fill="#14183a"/><rect x="248.7" y="203.5" width="1.6" height="1.6" fill="#14183a"/><circle cx="224.5" cy="208.5" r="1.4" fill="#000"/><circle cx="244" cy="209.5" r="1.4" fill="#000"/><path d="M283.3 143.5 L333.4 142.8 L342.4 145.5 L342.4 206 L333.4 209.6 L283.3 207 Z" fill="#2a2729"/><path d="M333.4 142.8 L342.4 145.5 L342.4 206 L333.4 209.6 Z" fill="#161416"/><rect x="300" y="146" width="1.5" height="62" fill="#141214"/><rect x="301.5" y="150" width="31" height="5" fill="#121012"/><rect x="301.5" y="160" width="20" height="24" fill="#3c383c"/><rect x="301.5" y="175" width="0" height="0"/><rect x="301.5" y="175" width="20" height="1" fill="#121012"/><rect x="301.5" y="180" width="20" height="5" fill="#121012"/><rect x="301.5" y="186" width="20" height="6" fill="#444044"/><rect x="323" y="156" width="9" height="10" fill="#3a363a"/><rect x="285" y="146" width="14" height="5" fill="#141214"/><path d="M374.8 148 L397.8 148 L400.6 200 L397.8 204.3 L374.8 204.3 Z" fill="#2a2a62"/><path d="M390 149 L397.8 148 L400.6 200 L397.8 204.3 L390 204.3 Z" fill="#4a4a96"/><path d="M378 151 L393 151 L394 200 L378 200 Z" fill="#34347a"/><rect x="379" y="153.0" width="14" height="1.3" fill="#1c1c4c"/><rect x="379" y="156.6" width="14" height="1.3" fill="#1c1c4c"/><rect x="379" y="160.2" width="14" height="1.3" fill="#1c1c4c"/><rect x="379" y="163.8" width="14" height="1.3" fill="#1c1c4c"/><rect x="379" y="167.4" width="14" height="1.3" fill="#1c1c4c"/><rect x="379" y="171.0" width="14" height="1.3" fill="#1c1c4c"/><rect x="379" y="174.6" width="14" height="1.3" fill="#1c1c4c"/><rect x="379" y="178.2" width="14" height="1.3" fill="#1c1c4c"/><rect x="379" y="181.8" width="14" height="1.3" fill="#1c1c4c"/><rect x="379" y="185.4" width="14" height="1.3" fill="#1c1c4c"/><rect x="379" y="189.0" width="14" height="1.3" fill="#1c1c4c"/><rect x="379" y="192.6" width="14" height="1.3" fill="#1c1c4c"/><rect x="379" y="196.2" width="14" height="1.3" fill="#1c1c4c"/><path d="M360.5 154.6 L374.8 152.7 L374.8 200.5 L361.5 205.3 Z" fill="#20205a"/><path d="M362.5 157 L373 155.5 L373 199 L363 202.5 Z" fill="#2e2e72"/><path d="M363 160.0 L372.5 158.6" stroke="#7878c0" stroke-width="0.8"/><path d="M363 163.4 L372.5 161.9" stroke="#7878c0" stroke-width="0.8"/><path d="M363 166.8 L372.5 165.2" stroke="#7878c0" stroke-width="0.8"/><path d="M363 170.2 L372.5 168.5" stroke="#7878c0" stroke-width="0.8"/><path d="M363 173.6 L372.5 171.8" stroke="#7878c0" stroke-width="0.8"/><path d="M363 177.0 L372.5 175.1" stroke="#7878c0" stroke-width="0.8"/><path d="M363 180.4 L372.5 178.4" stroke="#7878c0" stroke-width="0.8"/><path d="M363 183.8 L372.5 181.7" stroke="#7878c0" stroke-width="0.8"/><path d="M363 187.2 L372.5 185.0" stroke="#7878c0" stroke-width="0.8"/><path d="M363 190.6 L372.5 188.3" stroke="#7878c0" stroke-width="0.8"/><path d="M363 194.0 L372.5 191.6" stroke="#7878c0" stroke-width="0.8"/><path d="M363 197.4 L372.5 194.9" stroke="#7878c0" stroke-width="0.8"/><linearGradient id="ggis" x1="0" y1="0" x2="0" y2="1"><stop offset="0" stop-color="#7a7a7a"/><stop offset="1" stop-color="#3c3c3c"/></linearGradient><path d="M424.7 136.5 Q425 135.7 426 135.7 L454 135.7 Q455 135.7 455 136.5 L455 149 L424.7 149 Z" fill="url(#ggis)"/><rect x="424.7" y="149" width="30.3" height="44.7" fill="#2c2a2a"/><rect x="441" y="149" width="8" height="44.7" fill="#363434"/><rect x="425" y="149.5" width="15.5" height="2.8" fill="#0a0a0a"/><rect x="426.0" y="155.0" width="0.9" height="0.9" fill="#5a6a6a"/><rect x="428.4" y="155.0" width="0.9" height="0.9" fill="#5a6a6a"/><rect x="430.8" y="155.0" width="0.9" height="0.9" fill="#5a6a6a"/><rect x="433.2" y="155.0" width="0.9" height="0.9" fill="#5a6a6a"/><rect x="435.6" y="155.0" width="0.9" height="0.9" fill="#5a6a6a"/><rect x="427.2" y="157.3" width="0.9" height="0.9" fill="#5a6a6a"/><rect x="429.6" y="157.3" width="0.9" height="0.9" fill="#5a6a6a"/><rect x="432.0" y="157.3" width="0.9" height="0.9" fill="#5a6a6a"/><rect x="434.4" y="157.3" width="0.9" height="0.9" fill="#5a6a6a"/><rect x="436.8" y="157.3" width="0.9" height="0.9" fill="#5a6a6a"/><rect x="426.0" y="159.6" width="0.9" height="0.9" fill="#5a6a6a"/><rect x="428.4" y="159.6" width="0.9" height="0.9" fill="#5a6a6a"/><rect x="430.8" y="159.6" width="0.9" height="0.9" fill="#5a6a6a"/><rect x="433.2" y="159.6" width="0.9" height="0.9" fill="#5a6a6a"/><rect x="435.6" y="159.6" width="0.9" height="0.9" fill="#5a6a6a"/><rect x="427.2" y="161.9" width="0.9" height="0.9" fill="#5a6a6a"/><rect x="429.6" y="161.9" width="0.9" height="0.9" fill="#5a6a6a"/><rect x="432.0" y="161.9" width="0.9" height="0.9" fill="#5a6a6a"/><rect x="434.4" y="161.9" width="0.9" height="0.9" fill="#5a6a6a"/><rect x="436.8" y="161.9" width="0.9" height="0.9" fill="#5a6a6a"/><rect x="426.0" y="164.2" width="0.9" height="0.9" fill="#5a6a6a"/><rect x="428.4" y="164.2" width="0.9" height="0.9" fill="#5a6a6a"/><rect x="430.8" y="164.2" width="0.9" height="0.9" fill="#5a6a6a"/><rect x="433.2" y="164.2" width="0.9" height="0.9" fill="#5a6a6a"/><rect x="435.6" y="164.2" width="0.9" height="0.9" fill="#5a6a6a"/><rect x="427.2" y="166.5" width="0.9" height="0.9" fill="#5a6a6a"/><rect x="429.6" y="166.5" width="0.9" height="0.9" fill="#5a6a6a"/><rect x="432.0" y="166.5" width="0.9" height="0.9" fill="#5a6a6a"/><rect x="434.4" y="166.5" width="0.9" height="0.9" fill="#5a6a6a"/><rect x="436.8" y="166.5" width="0.9" height="0.9" fill="#5a6a6a"/><rect x="426.0" y="168.8" width="0.9" height="0.9" fill="#5a6a6a"/><rect x="428.4" y="168.8" width="0.9" height="0.9" fill="#5a6a6a"/><rect x="430.8" y="168.8" width="0.9" height="0.9" fill="#5a6a6a"/><rect x="433.2" y="168.8" width="0.9" height="0.9" fill="#5a6a6a"/><rect x="435.6" y="168.8" width="0.9" height="0.9" fill="#5a6a6a"/><rect x="427.2" y="171.1" width="0.9" height="0.9" fill="#5a6a6a"/><rect x="429.6" y="171.1" width="0.9" height="0.9" fill="#5a6a6a"/><rect x="432.0" y="171.1" width="0.9" height="0.9" fill="#5a6a6a"/><rect x="434.4" y="171.1" width="0.9" height="0.9" fill="#5a6a6a"/><rect x="436.8" y="171.1" width="0.9" height="0.9" fill="#5a6a6a"/><rect x="426.0" y="173.4" width="0.9" height="0.9" fill="#5a6a6a"/><rect x="428.4" y="173.4" width="0.9" height="0.9" fill="#5a6a6a"/><rect x="430.8" y="173.4" width="0.9" height="0.9" fill="#5a6a6a"/><rect x="433.2" y="173.4" width="0.9" height="0.9" fill="#5a6a6a"/><rect x="435.6" y="173.4" width="0.9" height="0.9" fill="#5a6a6a"/><rect x="427.2" y="175.7" width="0.9" height="0.9" fill="#5a6a6a"/><rect x="429.6" y="175.7" width="0.9" height="0.9" fill="#5a6a6a"/><rect x="432.0" y="175.7" width="0.9" height="0.9" fill="#5a6a6a"/><rect x="434.4" y="175.7" width="0.9" height="0.9" fill="#5a6a6a"/><rect x="436.8" y="175.7" width="0.9" height="0.9" fill="#5a6a6a"/><rect x="426.0" y="178.0" width="0.9" height="0.9" fill="#5a6a6a"/><rect x="428.4" y="178.0" width="0.9" height="0.9" fill="#5a6a6a"/><rect x="430.8" y="178.0" width="0.9" height="0.9" fill="#5a6a6a"/><rect x="433.2" y="178.0" width="0.9" height="0.9" fill="#5a6a6a"/><rect x="435.6" y="178.0" width="0.9" height="0.9" fill="#5a6a6a"/><path d="M425.5 181.5 L451 180.5 M425.5 185.8 L451 184.6 M425.5 190 L451 189" stroke="#8a8a8a" stroke-width="1.3"/><clipPath id="fwclip"><path d="M489.8 181 L498 181 L521.8 159 L521.8 192 L498 215 L489.8 215 Z"/></clipPath><path d="M498 181 L521.8 159 L521.8 192 L498 215 Z" fill="#de6a48"/><rect x="489.8" y="181" width="8.2" height="34" fill="#e4724e"/><g clip-path="url(#fwclip)"><path d="M489.8 185.0 h8.2 l23.8 -22" stroke="#fbeee6" stroke-width="1" fill="none"/><path d="M501.0 177.8 v4.4" stroke="#fbeee6" stroke-width="0.9"/><path d="M507.0 172.3 v4.4" stroke="#fbeee6" stroke-width="0.9"/><path d="M513.0 166.7 v4.4" stroke="#fbeee6" stroke-width="0.9"/><path d="M519.0 161.2 v4.4" stroke="#fbeee6" stroke-width="0.9"/><path d="M495.5 180.6 v4.4" stroke="#fbeee6" stroke-width="0.9"/><path d="M489.8 189.4 h8.2 l23.8 -22" stroke="#fbeee6" stroke-width="1" fill="none"/><path d="M504.0 179.5 v4.4" stroke="#fbeee6" stroke-width="0.9"/><path d="M510.0 173.9 v4.4" stroke="#fbeee6" stroke-width="0.9"/><path d="M516.0 168.4 v4.4" stroke="#fbeee6" stroke-width="0.9"/><path d="M492.0 185.0 v4.4" stroke="#fbeee6" stroke-width="0.9"/><path d="M489.8 193.8 h8.2 l23.8 -22" stroke="#fbeee6" stroke-width="1" fill="none"/><path d="M501.0 186.6 v4.4" stroke="#fbeee6" stroke-width="0.9"/><path d="M507.0 181.1 v4.4" stroke="#fbeee6" stroke-width="0.9"/><path d="M513.0 175.5 v4.4" stroke="#fbeee6" stroke-width="0.9"/><path d="M519.0 170.0 v4.4" stroke="#fbeee6" stroke-width="0.9"/><path d="M495.5 189.4 v4.4" stroke="#fbeee6" stroke-width="0.9"/><path d="M489.8 198.2 h8.2 l23.8 -22" stroke="#fbeee6" stroke-width="1" fill="none"/><path d="M504.0 188.3 v4.4" stroke="#fbeee6" stroke-width="0.9"/><path d="M510.0 182.7 v4.4" stroke="#fbeee6" stroke-width="0.9"/><path d="M516.0 177.2 v4.4" stroke="#fbeee6" stroke-width="0.9"/><path d="M492.0 193.8 v4.4" stroke="#fbeee6" stroke-width="0.9"/><path d="M489.8 202.6 h8.2 l23.8 -22" stroke="#fbeee6" stroke-width="1" fill="none"/><path d="M501.0 195.4 v4.4" stroke="#fbeee6" stroke-width="0.9"/><path d="M507.0 189.9 v4.4" stroke="#fbeee6" stroke-width="0.9"/><path d="M513.0 184.3 v4.4" stroke="#fbeee6" stroke-width="0.9"/><path d="M519.0 178.8 v4.4" stroke="#fbeee6" stroke-width="0.9"/><path d="M495.5 198.2 v4.4" stroke="#fbeee6" stroke-width="0.9"/><path d="M489.8 207.0 h8.2 l23.8 -22" stroke="#fbeee6" stroke-width="1" fill="none"/><path d="M504.0 197.1 v4.4" stroke="#fbeee6" stroke-width="0.9"/><path d="M510.0 191.5 v4.4" stroke="#fbeee6" stroke-width="0.9"/><path d="M516.0 186.0 v4.4" stroke="#fbeee6" stroke-width="0.9"/><path d="M492.0 202.6 v4.4" stroke="#fbeee6" stroke-width="0.9"/><path d="M489.8 211.4 h8.2 l23.8 -22" stroke="#fbeee6" stroke-width="1" fill="none"/><path d="M501.0 204.2 v4.4" stroke="#fbeee6" stroke-width="0.9"/><path d="M507.0 198.7 v4.4" stroke="#fbeee6" stroke-width="0.9"/><path d="M513.0 193.1 v4.4" stroke="#fbeee6" stroke-width="0.9"/><path d="M519.0 187.6 v4.4" stroke="#fbeee6" stroke-width="0.9"/><path d="M495.5 207.0 v4.4" stroke="#fbeee6" stroke-width="0.9"/><path d="M489.8 215.8 h8.2 l23.8 -22" stroke="#fbeee6" stroke-width="1" fill="none"/><path d="M504.0 205.9 v4.4" stroke="#fbeee6" stroke-width="0.9"/><path d="M510.0 200.3 v4.4" stroke="#fbeee6" stroke-width="0.9"/><path d="M516.0 194.8 v4.4" stroke="#fbeee6" stroke-width="0.9"/><path d="M492.0 211.4 v4.4" stroke="#fbeee6" stroke-width="0.9"/></g><path d="M489.8 181 V215 H498 L521.8 192 V159" fill="none" stroke="#5a2010" stroke-width="0.9"/><path d="M498 181 V215" stroke="#b04828" stroke-width="0.8"/><path d="M489 177 L514 154.6 L525 154.6 L525 157.8 L498.5 182 L489 182 Z" fill="#e6e6e6" stroke="#1a1a1a" stroke-width="1"/><path d="M489 177 L498.5 177 L525 154.6 M498.5 177 V182" fill="none" stroke="#1a1a1a" stroke-width="0.8"/><rect x="551.4" y="148.9" width="37.9" height="47.4" rx="1.5" fill="#5e6874"/><rect x="553" y="150.5" width="34.6" height="44" fill="#566070"/><rect x="556" y="155.3" width="30" height="1" fill="#2a3038"/><rect x="556" y="158.4" width="30" height="1" fill="#2a3038"/><rect x="556" y="161.5" width="30" height="1" fill="#2a3038"/><rect x="556" y="164.6" width="30" height="1" fill="#2a3038"/><rect x="556" y="167.7" width="30" height="1" fill="#2a3038"/><rect x="556" y="170.8" width="30" height="1" fill="#2a3038"/><rect x="556" y="173.9" width="30" height="1" fill="#2a3038"/><rect x="556" y="177.0" width="30" height="1" fill="#2a3038"/><rect x="556" y="180.1" width="30" height="1" fill="#2a3038"/><rect x="556" y="183.2" width="30" height="1" fill="#2a3038"/><rect x="556" y="186.3" width="30" height="1" fill="#2a3038"/><rect x="556" y="189.4" width="30" height="1" fill="#2a3038"/><rect x="556" y="192.5" width="30" height="1" fill="#2a3038"/><rect x="579" y="155.6" width="1.3" height="18" fill="#16181c"/><rect x="579" y="176.4" width="1.3" height="17.2" fill="#16181c"/><rect x="561.3" y="175" width="8.6" height="5.6" fill="#241c24"/><rect x="568" y="151.4" width="6" height="1.5" fill="#c85050"/><path fill="#000" d="M167 527h4v1h-4zM172 527h4v1h-4zM167 528h1v1h-1zM170 528h1v1h-1zM172 528h1v1h-1zM175 528h1v1h-1zM167 529h1v1h-1zM170 529h1v1h-1zM172 529h1v1h-1zM175 529h1v1h-1zM167 530h4v1h-4zM172 530h4v1h-4zM171 531h1v1h-1zM174 531h1v1h-1zM166 532h11v1h-11zM169 533h1v1h-1zM173 533h1v1h-1zM166 534h5v1h-5zM172 534h5v1h-5zM167 535h1v1h-1zM170 535h1v1h-1zM172 535h1v1h-1zM175 535h1v1h-1zM167 536h1v1h-1zM170 536h1v1h-1zM172 536h1v1h-1zM175 536h1v1h-1zM167 537h4v1h-4zM172 537h4v1h-4z"/><use href="#pc" x="79.6" y="334.6"/><use href="#pc" x="140.5" y="334.3"/><use href="#pc" x="201.7" y="334.4"/><use href="#pc" x="262.2" y="334.8"/><use href="#pc" x="327.6" y="336.5"/><use href="#pc" x="467.2" y="337.6"/><path d="M446 375 L458 374 L458 391 L446 394 Z" fill="#c8c8cc"/><path d="M394.6 346 L448.5 344.6 L448.5 394 L440 396.2 L394.6 394 Z" fill="#1e3290"/><rect x="394.6" y="345.6" width="46" height="10" fill="#4a66c4"/><rect x="418" y="346" width="22" height="9" fill="#2a3ca8"/><rect x="397" y="347.5" width="3" height="1.5" fill="#d04848"/><path d="M440.5 345 L448.5 344.6 L448.5 394 L440.5 396.2 Z" fill="#0e1848"/><rect x="394.6" y="386" width="46" height="9" fill="#121c5c"/><rect x="397.4" y="357" width="2.8" height="26" fill="#4a6ad0"/><rect x="401.6" y="357" width="2.8" height="26" fill="#4a6ad0"/><rect x="405.8" y="357" width="2.8" height="26" fill="#4a6ad0"/><rect x="410.0" y="357" width="2.8" height="26" fill="#4a6ad0"/><rect x="414.2" y="357" width="2.8" height="26" fill="#4a6ad0"/><rect x="418.4" y="357" width="2.8" height="26" fill="#4a6ad0"/><rect x="422.6" y="357" width="2.8" height="26" fill="#4a6ad0"/><rect x="426.8" y="357" width="2.8" height="26" fill="#4a6ad0"/><rect x="431.0" y="357" width="2.8" height="26" fill="#4a6ad0"/><rect x="435.2" y="357" width="2.8" height="26" fill="#4a6ad0"/><rect x="400.2" y="357" width="1.2" height="26" fill="#16246a"/><rect x="404.4" y="357" width="1.2" height="26" fill="#16246a"/><rect x="408.6" y="357" width="1.2" height="26" fill="#16246a"/><rect x="412.8" y="357" width="1.2" height="26" fill="#16246a"/><rect x="417.0" y="357" width="1.2" height="26" fill="#16246a"/><rect x="421.2" y="357" width="1.2" height="26" fill="#16246a"/><rect x="425.4" y="357" width="1.2" height="26" fill="#16246a"/><rect x="429.6" y="357" width="1.2" height="26" fill="#16246a"/><rect x="433.8" y="357" width="1.2" height="26" fill="#16246a"/><rect x="438.0" y="357" width="1.2" height="26" fill="#16246a"/><rect x="399.4" y="382.6" width="2.2" height="2" fill="#e8eeff"/><rect x="403.5" y="382.6" width="2.2" height="2" fill="#e8eeff"/><rect x="407.6" y="382.6" width="2.2" height="2" fill="#e8eeff"/><rect x="411.7" y="382.6" width="2.2" height="2" fill="#e8eeff"/><rect x="415.8" y="382.6" width="2.2" height="2" fill="#e8eeff"/><rect x="419.9" y="382.6" width="2.2" height="2" fill="#e8eeff"/><rect x="424.0" y="382.6" width="2.2" height="2" fill="#e8eeff"/><rect x="428.1" y="382.6" width="2.2" height="2" fill="#e8eeff"/><rect x="432.2" y="382.6" width="2.2" height="2" fill="#e8eeff"/><rect x="436.3" y="382.6" width="2.2" height="2" fill="#e8eeff"/><path d="M540 341 Q539 340.5 541 340.5 L577 340.5 Q579 340.5 579 342 L580.4 355 L580.4 391 L537.6 391 L537.6 355 Z" fill="#e8e8e4" stroke="#b8b8b4" stroke-width="0.6"/><rect x="547" y="342.9" width="26.2" height="3.7" fill="#2e2e30"/><rect x="547.5" y="346.6" width="25" height="1" fill="#8a8a8a"/><rect x="553" y="350.5" width="14" height="1.2" fill="#c4c4c0"/><rect x="540" y="342" width="5" height="2.2" fill="#5868c0"/><path d="M537.6 355.5 H580.4" stroke="#cacac6" stroke-width="0.8"/><path d="M537.6 370.8 H580.4 M537.6 378.8 H580.4" stroke="#a6a6a2" stroke-width="0.9"/><path d="M547 376.3 H565" stroke="#8a8a88" stroke-width="0.9"/><rect x="558" y="358" width="1.4" height="1.4" fill="#505050"/><rect x="574" y="374" width="0.8" height="2" fill="#707070"/><rect x="574" y="384" width="0.8" height="2" fill="#707070"/><rect x="540.5" y="358.0" width="0.8" height="0.8" fill="#b4b4c8"/><rect x="543.5" y="358.0" width="0.8" height="0.8" fill="#b4b4c8"/><rect x="546.5" y="358.0" width="0.8" height="0.8" fill="#b4b4c8"/><rect x="549.5" y="358.0" width="0.8" height="0.8" fill="#b4b4c8"/><rect x="552.5" y="358.0" width="0.8" height="0.8" fill="#b4b4c8"/><rect x="555.5" y="358.0" width="0.8" height="0.8" fill="#b4b4c8"/><rect x="558.5" y="358.0" width="0.8" height="0.8" fill="#b4b4c8"/><rect x="540.5" y="361.0" width="0.8" height="0.8" fill="#b4b4c8"/><rect x="543.5" y="361.0" width="0.8" height="0.8" fill="#b4b4c8"/><rect x="546.5" y="361.0" width="0.8" height="0.8" fill="#b4b4c8"/><rect x="549.5" y="361.0" width="0.8" height="0.8" fill="#b4b4c8"/><rect x="552.5" y="361.0" width="0.8" height="0.8" fill="#b4b4c8"/><rect x="555.5" y="361.0" width="0.8" height="0.8" fill="#b4b4c8"/><rect x="558.5" y="361.0" width="0.8" height="0.8" fill="#b4b4c8"/><rect x="540.5" y="364.0" width="0.8" height="0.8" fill="#b4b4c8"/><rect x="543.5" y="364.0" width="0.8" height="0.8" fill="#b4b4c8"/><rect x="546.5" y="364.0" width="0.8" height="0.8" fill="#b4b4c8"/><rect x="549.5" y="364.0" width="0.8" height="0.8" fill="#b4b4c8"/><rect x="552.5" y="364.0" width="0.8" height="0.8" fill="#b4b4c8"/><rect x="555.5" y="364.0" width="0.8" height="0.8" fill="#b4b4c8"/><rect x="558.5" y="364.0" width="0.8" height="0.8" fill="#b4b4c8"/><rect x="540.5" y="367.0" width="0.8" height="0.8" fill="#b4b4c8"/><rect x="543.5" y="367.0" width="0.8" height="0.8" fill="#b4b4c8"/><rect x="546.5" y="367.0" width="0.8" height="0.8" fill="#b4b4c8"/><rect x="549.5" y="367.0" width="0.8" height="0.8" fill="#b4b4c8"/><rect x="552.5" y="367.0" width="0.8" height="0.8" fill="#b4b4c8"/><rect x="555.5" y="367.0" width="0.8" height="0.8" fill="#b4b4c8"/><rect x="558.5" y="367.0" width="0.8" height="0.8" fill="#b4b4c8"/><clipPath id="cc3"><path d="M40 526 C40 516 50 512 60 511 C66 504 84 500 100 501 C112 499 128 501 138 507 C150 509 160 517 163 524 C167 528 169.5 533 168.8 537 C168.4 541 166.5 544 165.4 546 C166.8 550 167.2 556 166 560 C160 568 150 572 140 571 C128 574 112 574 100 572 C88 570 76 569 68 566 C58 566 50 560 51 552 C51 548 54 546 54 545 C44 543 38 536 40 526 Z"/></clipPath><filter id="cf3" x="-20%" y="-20%" width="140%" height="140%"><feGaussianBlur stdDeviation="3.0"/></filter><path d="M40 526 C40 516 50 512 60 511 C66 504 84 500 100 501 C112 499 128 501 138 507 C150 509 160 517 163 524 C167 528 169.5 533 168.8 537 C168.4 541 166.5 544 165.4 546 C166.8 550 167.2 556 166 560 C160 568 150 572 140 571 C128 574 112 574 100 572 C88 570 76 569 68 566 C58 566 50 560 51 552 C51 548 54 546 54 545 C44 543 38 536 40 526 Z" fill="#d9e7fc"/><g clip-path="url(#cc3)"><path d="M40 526 C40 516 50 512 60 511 C66 504 84 500 100 501 C112 499 128 501 138 507 C150 509 160 517 163 524 C167 528 169.5 533 168.8 537 C168.4 541 166.5 544 165.4 546 C166.8 550 167.2 556 166 560 C160 568 150 572 140 571 C128 574 112 574 100 572 C88 570 76 569 68 566 C58 566 50 560 51 552 C51 548 54 546 54 545 C44 543 38 536 40 526 Z" fill="none" stroke="#7eacf0" stroke-width="16.0" filter="url(#cf3)" transform="translate(0.8 1.2)"/></g><path d="M40 526 C40 516 50 512 60 511 C66 504 84 500 100 501 C112 499 128 501 138 507 C150 509 160 517 163 524 C167 528 169.5 533 168.8 537 C168.4 541 166.5 544 165.4 546 C166.8 550 167.2 556 166 560 C160 568 150 572 140 571 C128 574 112 574 100 572 C88 570 76 569 68 566 C58 566 50 560 51 552 C51 548 54 546 54 545 C44 543 38 536 40 526 Z" fill="none" stroke="#5a8ee0" stroke-width="1.2"/><use href="#router" x="32" y="482"/><use href="#router" x="130.3" y="487"/><use href="#router" x="135.2" y="558.6"/><use href="#pc" x="215.4" y="465.3"/><use href="#pc" x="218.5" y="557.7"/><use href="#phone" x="259" y="471"/><use href="#phone" x="261.6" y="563.3"/><clipPath id="cc4"><path d="M370.4 533.7 C370.0 527.0 374.0 525.0 378.0 525.0 C384.0 520.0 392.0 520.0 399.0 521.0 C404.0 518.0 410.0 518.0 413.0 520.0 C418.0 519.0 422.0 521.0 424.0 523.0 C430.0 523.0 434.0 525.0 436.0 528.0 C441.0 530.0 444.0 534.0 443.5 539.0 C444.0 544.0 442.0 548.0 440.0 550.0 C436.0 555.0 430.0 557.0 423.0 557.0 C416.0 558.0 410.0 558.0 403.0 557.5 C395.0 557.0 386.0 554.0 379.0 551.0 C375.0 549.0 373.0 546.0 373.0 542.5 C370.0 540.0 370.0 537.0 370.4 533.7 Z"/></clipPath><filter id="cf4" x="-20%" y="-20%" width="140%" height="140%"><feGaussianBlur stdDeviation="2.2"/></filter><path d="M370.4 533.7 C370.0 527.0 374.0 525.0 378.0 525.0 C384.0 520.0 392.0 520.0 399.0 521.0 C404.0 518.0 410.0 518.0 413.0 520.0 C418.0 519.0 422.0 521.0 424.0 523.0 C430.0 523.0 434.0 525.0 436.0 528.0 C441.0 530.0 444.0 534.0 443.5 539.0 C444.0 544.0 442.0 548.0 440.0 550.0 C436.0 555.0 430.0 557.0 423.0 557.0 C416.0 558.0 410.0 558.0 403.0 557.5 C395.0 557.0 386.0 554.0 379.0 551.0 C375.0 549.0 373.0 546.0 373.0 542.5 C370.0 540.0 370.0 537.0 370.4 533.7 Z" fill="#cfe1fc"/><g clip-path="url(#cc4)"><path d="M370.4 533.7 C370.0 527.0 374.0 525.0 378.0 525.0 C384.0 520.0 392.0 520.0 399.0 521.0 C404.0 518.0 410.0 518.0 413.0 520.0 C418.0 519.0 422.0 521.0 424.0 523.0 C430.0 523.0 434.0 525.0 436.0 528.0 C441.0 530.0 444.0 534.0 443.5 539.0 C444.0 544.0 442.0 548.0 440.0 550.0 C436.0 555.0 430.0 557.0 423.0 557.0 C416.0 558.0 410.0 558.0 403.0 557.5 C395.0 557.0 386.0 554.0 379.0 551.0 C375.0 549.0 373.0 546.0 373.0 542.5 C370.0 540.0 370.0 537.0 370.4 533.7 Z" fill="none" stroke="#6e9eec" stroke-width="10.0" filter="url(#cf4)" transform="translate(0.8 1.2)"/></g><path d="M370.4 533.7 C370.0 527.0 374.0 525.0 378.0 525.0 C384.0 520.0 392.0 520.0 399.0 521.0 C404.0 518.0 410.0 518.0 413.0 520.0 C418.0 519.0 422.0 521.0 424.0 523.0 C430.0 523.0 434.0 525.0 436.0 528.0 C441.0 530.0 444.0 534.0 443.5 539.0 C444.0 544.0 442.0 548.0 440.0 550.0 C436.0 555.0 430.0 557.0 423.0 557.0 C416.0 558.0 410.0 558.0 403.0 557.5 C395.0 557.0 386.0 554.0 379.0 551.0 C375.0 549.0 373.0 546.0 373.0 542.5 C370.0 540.0 370.0 537.0 370.4 533.7 Z" fill="none" stroke="#5a8ee0" stroke-width="1.2"/><path d="M378 559.7 H438.7" stroke="#000" stroke-width="2"/><path d="M398.2 564.4 H431.3" stroke="#000" stroke-width="1.1"/><rect x="405.6" y="548.6" width="25.7" height="5.6" fill="#fff" stroke="#000" stroke-width="1.1"/><rect x="417.1" y="540.4" width="10.1" height="8.2" fill="#fff" stroke="#000" stroke-width="1.1"/><rect x="408.3" y="550.6" width="1.3" height="1.3" fill="#000"/><rect x="411.2" y="550.6" width="1.3" height="1.3" fill="#000"/><rect x="414.1" y="550.6" width="1.3" height="1.3" fill="#000"/><rect x="417.0" y="550.6" width="1.3" height="1.3" fill="#000"/><rect x="419.9" y="550.6" width="1.3" height="1.3" fill="#000"/><rect x="422.8" y="550.6" width="1.3" height="1.3" fill="#000"/><rect x="419.5" y="543" width="1.5" height="2" fill="#000"/><rect x="423" y="543" width="1.5" height="2" fill="#000"/><rect x="426.5" y="551" width="3.5" height="3.2" fill="#000"/><path d="M431.3 554.2 H438.7" stroke="#000" stroke-width="1"/><path d="M395.5 551.5 V559 M395.5 552 L387.8 559 M395.5 552 L403.5 559" stroke="#000" stroke-width="1.2" fill="none"/><rect x="391" y="547.6" width="9.6" height="4" fill="#fff" stroke="#000" stroke-width="1.2"/><rect x="390.8" y="541.6" width="7.2" height="3.2" fill="#fff" stroke="#000" stroke-width="1.2"/><rect x="394" y="544.8" width="1.4" height="2.8" fill="#000"/><ellipse cx="401.2" cy="532.3" rx="7.6" ry="14.4" transform="rotate(-38 401.2 532.3)" fill="#fff" stroke="#000" stroke-width="1.5"/><path d="M394.3 526.4 L413.6 523.7 L406.8 539.5" fill="none" stroke="#000" stroke-width="1.3"/><g fill="none" stroke="#f9a264" stroke-width="3" stroke-linecap="round"><path d="M456.6 542.2 Q464.85 555.15 458.4 567.5"/><path d="M464.8 532 Q475 553.75 467.9 575.6"/><path d="M470.9 507 Q487.55 537.15 474.7 566.8"/></g><clipPath id="cc5"><path d="M483.4 482.0 C483.0 474.8 487.1 472.7 491.3 472.7 C497.6 467.3 505.9 467.3 513.2 468.4 C518.4 465.2 524.6 465.2 527.8 467.3 C533.0 466.3 537.1 468.4 539.2 470.5 C545.4 470.5 549.6 472.7 551.7 475.9 C556.9 478.0 560.0 482.3 559.5 487.6 C560.0 493.0 557.9 497.2 555.9 499.4 C551.7 504.7 545.4 506.9 538.2 506.9 C530.9 507.9 524.6 507.9 517.3 507.4 C509.0 506.9 499.6 503.7 492.4 500.5 C488.2 498.3 486.1 495.1 486.1 491.4 C483.0 488.7 483.0 485.5 483.4 482.0 Z"/></clipPath><filter id="cf5" x="-20%" y="-20%" width="140%" height="140%"><feGaussianBlur stdDeviation="2.2"/></filter><path d="M483.4 482.0 C483.0 474.8 487.1 472.7 491.3 472.7 C497.6 467.3 505.9 467.3 513.2 468.4 C518.4 465.2 524.6 465.2 527.8 467.3 C533.0 466.3 537.1 468.4 539.2 470.5 C545.4 470.5 549.6 472.7 551.7 475.9 C556.9 478.0 560.0 482.3 559.5 487.6 C560.0 493.0 557.9 497.2 555.9 499.4 C551.7 504.7 545.4 506.9 538.2 506.9 C530.9 507.9 524.6 507.9 517.3 507.4 C509.0 506.9 499.6 503.7 492.4 500.5 C488.2 498.3 486.1 495.1 486.1 491.4 C483.0 488.7 483.0 485.5 483.4 482.0 Z" fill="#cfe1fc"/><g clip-path="url(#cc5)"><path d="M483.4 482.0 C483.0 474.8 487.1 472.7 491.3 472.7 C497.6 467.3 505.9 467.3 513.2 468.4 C518.4 465.2 524.6 465.2 527.8 467.3 C533.0 466.3 537.1 468.4 539.2 470.5 C545.4 470.5 549.6 472.7 551.7 475.9 C556.9 478.0 560.0 482.3 559.5 487.6 C560.0 493.0 557.9 497.2 555.9 499.4 C551.7 504.7 545.4 506.9 538.2 506.9 C530.9 507.9 524.6 507.9 517.3 507.4 C509.0 506.9 499.6 503.7 492.4 500.5 C488.2 498.3 486.1 495.1 486.1 491.4 C483.0 488.7 483.0 485.5 483.4 482.0 Z" fill="none" stroke="#6e9eec" stroke-width="10.0" filter="url(#cf5)" transform="translate(0.8 1.2)"/></g><path d="M483.4 482.0 C483.0 474.8 487.1 472.7 491.3 472.7 C497.6 467.3 505.9 467.3 513.2 468.4 C518.4 465.2 524.6 465.2 527.8 467.3 C533.0 466.3 537.1 468.4 539.2 470.5 C545.4 470.5 549.6 472.7 551.7 475.9 C556.9 478.0 560.0 482.3 559.5 487.6 C560.0 493.0 557.9 497.2 555.9 499.4 C551.7 504.7 545.4 506.9 538.2 506.9 C530.9 507.9 524.6 507.9 517.3 507.4 C509.0 506.9 499.6 503.7 492.4 500.5 C488.2 498.3 486.1 495.1 486.1 491.4 C483.0 488.7 483.0 485.5 483.4 482.0 Z" fill="none" stroke="#5a8ee0" stroke-width="1.2"/><path d="M505.7 489.8 H558.5" stroke="#000" stroke-width="1.2"/><path d="M496.5 499.0 L515.0 488.5 L515.0 497.0 L496.5 510.0 Z" fill="#fff" stroke="#000" stroke-width="1.3"/><path d="M500.2 496.9 L500.2 507.4" stroke="#000" stroke-width="1.7"/><path d="M503.9 494.8 L503.9 504.8" stroke="#000" stroke-width="1.7"/><path d="M507.6 492.7 L507.6 502.2" stroke="#000" stroke-width="1.7"/><path d="M511.3 490.6 L511.3 499.6" stroke="#000" stroke-width="1.7"/><path d="M539.0 478.5 L553.0 473.6 L553.0 483.8 L539.0 491.6 Z" fill="#fff" stroke="#000" stroke-width="1.3"/><path d="M542.5 477.3 L542.5 489.7" stroke="#000" stroke-width="1.7"/><path d="M546.0 476.1 L546.0 487.7" stroke="#000" stroke-width="1.7"/><path d="M549.5 474.8 L549.5 485.8" stroke="#000" stroke-width="1.7"/><path d="M511.8 464.6 L518.8 462.8 L519.3 472.4 L512.3 474 Z" fill="#fff" stroke="#000" stroke-width="1.2"/><path d="M516 474 L517.4 479" stroke="#000" stroke-width="1.2"/><path d="M514 481 L524 477.5 L534 480 L535 500 L524 503 L515 499 Z" fill="#fff" stroke="#000" stroke-width="1.3"/><path d="M519 480 C515 486 515 495 520 501" fill="none" stroke="#000" stroke-width="1.2"/><ellipse cx="531" cy="490" rx="8" ry="12" fill="#fff" stroke="#000" stroke-width="1.5"/><path d="M531 481 C525 483 524 497 531 499" fill="none" stroke="#000" stroke-width="1.3"/><path d="M534 484 C529 485 528 495 534 496" fill="none" stroke="#000" stroke-width="2.2"/><path d="M531 489.8 H541" stroke="#000" stroke-width="1.4"/><circle cx="533" cy="489.8" r="1.8" fill="#000"/><path d="M527 502 V504.7 M525.4 504.7 H539.6" stroke="#000" stroke-width="1.2"/><path d="M481 584.5 L484 580 L486.5 576.8 L488 579 L568 579 L570.5 581.5 L570.5 585.5 L567.5 585.5 L567.5 584.5 Z" fill="#1c1c24"/><rect x="487.5" y="580" width="4.2" height="2.2" fill="#fff"/><rect x="492.9" y="580" width="4.2" height="2.2" fill="#fff"/><rect x="498.3" y="580" width="4.2" height="2.2" fill="#fff"/><rect x="503.7" y="580" width="4.2" height="2.2" fill="#fff"/><rect x="509.1" y="580" width="4.2" height="2.2" fill="#fff"/><rect x="514.5" y="580" width="4.2" height="2.2" fill="#fff"/><rect x="519.9" y="580" width="4.2" height="2.2" fill="#fff"/><rect x="525.3" y="580" width="4.2" height="2.2" fill="#fff"/><rect x="530.7" y="580" width="4.2" height="2.2" fill="#fff"/><rect x="536.1" y="580" width="4.2" height="2.2" fill="#fff"/><rect x="541.5" y="580" width="4.2" height="2.2" fill="#fff"/><rect x="546.9" y="580" width="4.2" height="2.2" fill="#fff"/><rect x="552.3" y="580" width="4.2" height="2.2" fill="#fff"/><rect x="557.7" y="580" width="4.2" height="2.2" fill="#fff"/><rect x="563.1" y="580" width="4.2" height="2.2" fill="#fff"/><rect x="486" y="582.8" width="81" height="1.2" fill="#7a6a80"/><path d="M483.2 592 L486 585.5 L507 585.5 L507 608.6 L483.2 608.6 Z" fill="#e81c1c"/><path d="M515 585.5 L569 585.5 L569 605 L515 605 Z" fill="#e81c1c"/><rect x="507" y="585.5" width="8" height="9" fill="#fff"/><rect x="507" y="594.3" width="7.5" height="16" fill="#3a3a44"/><rect x="508" y="596" width="5.5" height="1" fill="#8a8a90"/><rect x="508" y="603" width="5.5" height="1" fill="#8a8a90"/><rect x="487.5" y="588" width="6" height="5.8" fill="#141418"/><rect x="496.5" y="588" width="9.8" height="5.8" fill="#141418"/><rect x="535" y="595" width="32" height="3.2" fill="#4a4a58"/><rect x="535" y="598.5" width="32" height="0.9" fill="#f0f0f0"/><rect x="516" y="596" width="18" height="8" fill="#d82020"/><circle cx="524" cy="600" r="2.2" fill="#202020"/><rect x="517" y="600" width="2.2" height="6" fill="#e8c030"/><rect x="483.2" y="600" width="85.8" height="5" fill="#e02020"/><rect x="478.4" y="604.6" width="7" height="5.4" fill="#e8e8e0"/><rect x="569" y="603.8" width="4" height="4" fill="#101010"/><rect x="515" y="605" width="54" height="3" fill="#e02020"/><circle cx="497.5" cy="609.8" r="6.6" fill="#fff"/><circle cx="497.5" cy="610" r="5.6" fill="#2a2020"/><circle cx="497.5" cy="610" r="3" fill="#d81818"/><circle cx="556.4" cy="609.8" r="6.6" fill="#fff"/><circle cx="556.4" cy="610" r="5.6" fill="#2a2020"/><circle cx="556.4" cy="610" r="3" fill="#d81818"/><rect x="161.0" y="118.0" width="3.0" height="32.0" fill="#282828"/><rect x="239.0" y="113.0" width="3.0" height="35.0" fill="#282828"/><rect x="504.0" y="121.0" width="3.0" height="31.0" fill="#282828"/><rect x="524.0" y="185.0" width="23.0" height="3.0" fill="#282828"/><rect x="57.0" y="230.0" width="3.0" height="230.0" fill="#282828"/><rect x="165.0" y="230.0" width="3.0" height="51.0" fill="#282828"/><rect x="239.0" y="231.0" width="3.0" height="50.0" fill="#282828"/><rect x="310.0" y="231.0" width="3.0" height="50.0" fill="#282828"/><rect x="379.0" y="233.0" width="3.0" height="48.0" fill="#282828"/><rect x="441.0" y="233.0" width="3.0" height="48.0" fill="#282828"/><rect x="505.0" y="235.0" width="3.0" height="46.0" fill="#282828"/><rect x="98.0" y="298.0" width="3.0" height="33.0" fill="#282828"/><rect x="158.0" y="298.0" width="3.0" height="33.0" fill="#282828"/><rect x="219.0" y="298.0" width="3.0" height="33.0" fill="#282828"/><rect x="280.0" y="298.0" width="3.0" height="32.0" fill="#282828"/><rect x="344.0" y="298.0" width="3.0" height="34.0" fill="#282828"/><rect x="421.0" y="298.0" width="3.0" height="44.0" fill="#282828"/><rect x="483.0" y="298.0" width="3.0" height="35.0" fill="#282828"/><rect x="557.0" y="298.0" width="3.0" height="37.0" fill="#282828"/><rect x="420.0" y="444.0" width="3.0" height="49.0" fill="#282828"/><rect x="186.0" y="505.0" width="22.0" height="3.0" fill="#282828"/><rect x="190.0" y="578.0" width="22.5" height="3.0" fill="#282828"/><rect x="10" y="280" width="580.3" height="19" fill="url(#gbar)"/><text x="280.2" y="294.1" font-family="Liberation Serif" font-weight="bold" font-size="13px" textLength="46" lengthAdjust="spacingAndGlyphs" fill="#000">Ethernet</text><path d="M332.2 286.6v4.5h-4.5" fill="none" stroke="#9a9a9a" stroke-width="1"/><path d="M326.7 291.1l2.5 -2v4z" fill="#9a9a9a"/><path fill="#000" d="M21 94h1v1h-1zM24 94h5v1h-5zM31 94h6v1h-6zM38 94h1v1h-1zM48 94h1v1h-1zM56 94h1v1h-1zM63 94h2v1h-2zM21 95h1v1h-1zM24 95h1v1h-1zM28 95h1v1h-1zM32 95h1v1h-1zM35 95h1v1h-1zM38 95h4v1h-4zM48 95h1v1h-1zM57 95h1v1h-1zM60 95h3v1h-3zM19 96h6v1h-6zM28 96h1v1h-1zM31 96h7v1h-7zM39 96h1v1h-1zM44 96h9v1h-9zM62 96h1v1h-1zM21 97h1v1h-1zM24 97h1v1h-1zM26 97h2v1h-2zM32 97h1v1h-1zM34 97h1v1h-1zM36 97h1v1h-1zM38 97h1v1h-1zM40 97h1v1h-1zM44 97h1v1h-1zM48 97h1v1h-1zM52 97h1v1h-1zM55 97h3v1h-3zM59 97h7v1h-7zM21 98h1v1h-1zM23 98h2v1h-2zM31 98h11v1h-11zM44 98h9v1h-9zM57 98h1v1h-1zM62 98h1v1h-1zM21 99h2v1h-2zM24 99h6v1h-6zM44 99h1v1h-1zM48 99h1v1h-1zM52 99h1v1h-1zM57 99h1v1h-1zM62 99h1v1h-1zM20 100h2v1h-2zM24 100h1v1h-1zM26 100h1v1h-1zM28 100h1v1h-1zM32 100h9v1h-9zM44 100h1v1h-1zM48 100h1v1h-1zM52 100h1v1h-1zM57 100h1v1h-1zM60 100h5v1h-5zM19 101h1v1h-1zM21 101h1v1h-1zM24 101h1v1h-1zM26 101h1v1h-1zM28 101h1v1h-1zM44 101h9v1h-9zM57 101h1v1h-1zM60 101h1v1h-1zM64 101h1v1h-1zM21 102h1v1h-1zM24 102h1v1h-1zM27 102h1v1h-1zM33 102h7v1h-7zM48 102h1v1h-1zM53 102h1v1h-1zM57 102h2v1h-2zM60 102h1v1h-1zM64 102h1v1h-1zM21 103h1v1h-1zM24 103h1v1h-1zM26 103h1v1h-1zM28 103h1v1h-1zM33 103h1v1h-1zM39 103h1v1h-1zM48 103h1v1h-1zM53 103h1v1h-1zM57 103h1v1h-1zM60 103h5v1h-5zM19 104h3v1h-3zM24 104h2v1h-2zM29 104h1v1h-1zM33 104h7v1h-7zM49 104h5v1h-5zM60 104h1v1h-1zM64 104h1v1h-1z"/><path d="M67.8 100.2h5" stroke="#9a9a9a" stroke-width="1"/><path d="M66.8 100.2l3 -2.5v5z" fill="#9a9a9a"/><path d="M23.2 28.6h5" stroke="#9a9a9a" stroke-width="1"/><path d="M22.2 28.6l3 -2.5v5z" fill="#9a9a9a"/><path d="M23.8 47.0h5" stroke="#9a9a9a" stroke-width="1"/><path d="M22.8 47.0l3 -2.5v5z" fill="#9a9a9a"/><path d="M23.8 69.3h5" stroke="#9a9a9a" stroke-width="1"/><path d="M22.8 69.3l3 -2.5v5z" fill="#9a9a9a"/><path d="M25.5 84.0v4.5h-4.5" fill="none" stroke="#9a9a9a" stroke-width="1"/><path d="M20.0 88.5l2.5 -2v4z" fill="#9a9a9a"/><text x="128.9" y="120.6" font-family="Liberation Serif" font-size="12.8px" textLength="51.8" lengthAdjust="spacingAndGlyphs" fill="#000">PBX/ACD</text><path d="M187.5 113.0v4.5h-4.5" fill="none" stroke="#9a9a9a" stroke-width="1"/><path d="M182.0 117.5l2.5 -2v4z" fill="#9a9a9a"/><path fill="#000" d="M231 105h1v1h-1zM240 105h9v1h-9zM250 105h11v1h-11zM231 106h1v1h-1zM240 106h1v1h-1zM248 106h1v1h-1zM253 106h1v1h-1zM257 106h1v1h-1zM231 107h1v1h-1zM240 107h9v1h-9zM252 107h7v1h-7zM226 108h11v1h-11zM240 108h1v1h-1zM242 108h1v1h-1zM247 108h1v1h-1zM252 108h1v1h-1zM258 108h1v1h-1zM231 109h1v1h-1zM240 109h1v1h-1zM243 109h1v1h-1zM246 109h1v1h-1zM252 109h7v1h-7zM231 110h1v1h-1zM240 110h9v1h-9zM252 110h1v1h-1zM254 110h1v1h-1zM258 110h1v1h-1zM230 111h1v1h-1zM232 111h1v1h-1zM240 111h1v1h-1zM243 111h1v1h-1zM246 111h1v1h-1zM250 111h11v1h-11zM230 112h1v1h-1zM232 112h1v1h-1zM240 112h9v1h-9zM253 112h1v1h-1zM255 112h1v1h-1zM258 112h1v1h-1zM229 113h1v1h-1zM233 113h1v1h-1zM240 113h1v1h-1zM243 113h1v1h-1zM246 113h1v1h-1zM250 113h11v1h-11zM228 114h1v1h-1zM234 114h1v1h-1zM239 114h1v1h-1zM242 114h1v1h-1zM246 114h1v1h-1zM252 114h1v1h-1zM255 114h1v1h-1zM258 114h1v1h-1zM226 115h2v1h-2zM235 115h2v1h-2zM238 115h1v1h-1zM241 115h1v1h-1zM246 115h1v1h-1zM252 115h1v1h-1zM255 115h1v1h-1zM257 115h2v1h-2z"/><path d="M267.5 106.0v4.5h-4.5" fill="none" stroke="#9a9a9a" stroke-width="1"/><path d="M262.0 110.5l2.5 -2v4z" fill="#9a9a9a"/><path fill="#000" d="M369 65h1v1h-1zM373 65h5v1h-5zM383 65h1v1h-1zM385 65h5v1h-5zM394 65h1v1h-1zM398 65h1v1h-1zM404 65h1v1h-1zM411 65h1v1h-1zM370 66h1v1h-1zM380 66h3v1h-3zM385 66h1v1h-1zM389 66h1v1h-1zM394 66h1v1h-1zM398 66h4v1h-4zM405 66h1v1h-1zM409 66h1v1h-1zM411 66h1v1h-1zM414 66h1v1h-1zM370 67h1v1h-1zM382 67h1v1h-1zM385 67h1v1h-1zM389 67h1v1h-1zM393 67h1v1h-1zM395 67h1v1h-1zM397 67h1v1h-1zM401 67h1v1h-1zM404 67h4v1h-4zM409 67h6v1h-6zM372 68h7v1h-7zM380 68h4v1h-4zM385 68h5v1h-5zM392 68h3v1h-3zM396 68h1v1h-1zM398 68h1v1h-1zM400 68h1v1h-1zM368 69h3v1h-3zM374 69h1v1h-1zM376 69h1v1h-1zM382 69h1v1h-1zM394 69h1v1h-1zM399 69h1v1h-1zM404 69h1v1h-1zM406 69h1v1h-1zM408 69h7v1h-7zM370 70h1v1h-1zM374 70h1v1h-1zM376 70h1v1h-1zM382 70h2v1h-2zM385 70h5v1h-5zM393 70h1v1h-1zM398 70h1v1h-1zM400 70h1v1h-1zM404 70h1v1h-1zM406 70h1v1h-1zM411 70h1v1h-1zM370 71h1v1h-1zM374 71h1v1h-1zM376 71h1v1h-1zM378 71h1v1h-1zM381 71h2v1h-2zM384 71h1v1h-1zM387 71h1v1h-1zM392 71h3v1h-3zM396 71h2v1h-2zM401 71h2v1h-2zM404 71h1v1h-1zM406 71h1v1h-1zM408 71h7v1h-7zM370 72h1v1h-1zM373 72h1v1h-1zM376 72h1v1h-1zM378 72h1v1h-1zM381 72h2v1h-2zM385 72h5v1h-5zM399 72h1v1h-1zM405 72h1v1h-1zM408 72h1v1h-1zM410 72h1v1h-1zM412 72h1v1h-1zM414 72h1v1h-1zM370 73h1v1h-1zM372 73h1v1h-1zM377 73h2v1h-2zM380 73h1v1h-1zM382 73h1v1h-1zM387 73h1v1h-1zM394 73h2v1h-2zM400 73h2v1h-2zM405 73h2v1h-2zM408 73h1v1h-1zM410 73h1v1h-1zM412 73h1v1h-1zM414 73h1v1h-1zM369 74h1v1h-1zM371 74h1v1h-1zM382 74h1v1h-1zM387 74h1v1h-1zM392 74h2v1h-2zM398 74h2v1h-2zM404 74h1v1h-1zM408 74h1v1h-1zM410 74h1v1h-1zM412 74h1v1h-1zM414 74h1v1h-1zM368 75h1v1h-1zM372 75h7v1h-7zM382 75h1v1h-1zM384 75h7v1h-7zM400 75h2v1h-2zM408 75h1v1h-1zM413 75h2v1h-2z"/><text x="431.8" y="68.6" font-family="Liberation Sans" font-size="12.0px" textLength="31.8" lengthAdjust="spacingAndGlyphs" fill="#000">PSTN</text><path d="M468.5 61.0v4.5h-4.5" fill="none" stroke="#9a9a9a" stroke-width="1"/><path d="M463.0 65.5l2.5 -2v4z" fill="#9a9a9a"/><path d="M415.5 71.5h5" stroke="#9a9a9a" stroke-width="1"/><path d="M414.5 71.5l3 -2.5v5z" fill="#9a9a9a"/><path fill="#000" d="M537 92h4v1h-4zM542 92h1v1h-1zM554 92h1v1h-1zM562 92h4v1h-4zM567 92h4v1h-4zM537 93h1v1h-1zM540 93h1v1h-1zM542 93h5v1h-5zM554 93h1v1h-1zM562 93h1v1h-1zM565 93h1v1h-1zM567 93h1v1h-1zM570 93h1v1h-1zM537 94h1v1h-1zM540 94h1v1h-1zM542 94h1v1h-1zM546 94h1v1h-1zM550 94h9v1h-9zM562 94h1v1h-1zM565 94h1v1h-1zM567 94h1v1h-1zM570 94h1v1h-1zM537 95h1v1h-1zM540 95h2v1h-2zM543 95h1v1h-1zM545 95h1v1h-1zM550 95h1v1h-1zM554 95h1v1h-1zM558 95h1v1h-1zM562 95h4v1h-4zM567 95h4v1h-4zM537 96h4v1h-4zM544 96h1v1h-1zM550 96h1v1h-1zM554 96h1v1h-1zM558 96h1v1h-1zM566 96h1v1h-1zM569 96h1v1h-1zM539 97h1v1h-1zM543 97h1v1h-1zM545 97h1v1h-1zM550 97h9v1h-9zM561 97h11v1h-11zM537 98h1v1h-1zM539 98h2v1h-2zM542 98h1v1h-1zM546 98h1v1h-1zM550 98h1v1h-1zM554 98h1v1h-1zM558 98h1v1h-1zM564 98h1v1h-1zM568 98h1v1h-1zM537 99h1v1h-1zM539 99h1v1h-1zM541 99h7v1h-7zM550 99h1v1h-1zM554 99h1v1h-1zM558 99h1v1h-1zM561 99h5v1h-5zM567 99h5v1h-5zM537 100h1v1h-1zM539 100h1v1h-1zM542 100h1v1h-1zM546 100h1v1h-1zM550 100h1v1h-1zM554 100h1v1h-1zM558 100h1v1h-1zM562 100h1v1h-1zM565 100h1v1h-1zM567 100h1v1h-1zM570 100h1v1h-1zM537 101h1v1h-1zM539 101h2v1h-2zM542 101h1v1h-1zM546 101h1v1h-1zM550 101h9v1h-9zM562 101h1v1h-1zM565 101h1v1h-1zM567 101h1v1h-1zM570 101h1v1h-1zM537 102h2v1h-2zM542 102h5v1h-5zM550 102h1v1h-1zM558 102h1v1h-1zM562 102h4v1h-4zM567 102h4v1h-4z"/><path d="M577.5 93.0v4.5h-4.5" fill="none" stroke="#9a9a9a" stroke-width="1"/><path d="M572.0 97.5l2.5 -2v4z" fill="#9a9a9a"/><path fill="#000" d="M34 213h1v1h-1zM39 213h1v1h-1zM46 213h1v1h-1zM51 213h1v1h-1zM56 213h6v1h-6zM63 213h1v1h-1zM73 213h1v1h-1zM34 214h1v1h-1zM36 214h7v1h-7zM46 214h1v1h-1zM51 214h1v1h-1zM57 214h1v1h-1zM60 214h1v1h-1zM63 214h4v1h-4zM72 214h1v1h-1zM32 215h4v1h-4zM37 215h1v1h-1zM41 215h1v1h-1zM46 215h4v1h-4zM51 215h1v1h-1zM56 215h7v1h-7zM64 215h1v1h-1zM71 215h1v1h-1zM75 215h1v1h-1zM34 216h1v1h-1zM38 216h1v1h-1zM40 216h1v1h-1zM46 216h1v1h-1zM49 216h1v1h-1zM51 216h2v1h-2zM57 216h1v1h-1zM59 216h1v1h-1zM61 216h1v1h-1zM63 216h1v1h-1zM65 216h1v1h-1zM70 216h1v1h-1zM76 216h1v1h-1zM34 217h1v1h-1zM36 217h7v1h-7zM45 217h1v1h-1zM49 217h1v1h-1zM51 217h1v1h-1zM53 217h1v1h-1zM56 217h11v1h-11zM69 217h9v1h-9zM34 218h2v1h-2zM39 218h1v1h-1zM44 218h1v1h-1zM46 218h1v1h-1zM48 218h1v1h-1zM51 218h1v1h-1zM54 218h1v1h-1zM77 218h1v1h-1zM33 219h2v1h-2zM36 219h7v1h-7zM46 219h1v1h-1zM48 219h1v1h-1zM51 219h1v1h-1zM57 219h9v1h-9zM70 219h7v1h-7zM32 220h1v1h-1zM34 220h1v1h-1zM38 220h1v1h-1zM41 220h1v1h-1zM47 220h1v1h-1zM51 220h1v1h-1zM70 220h1v1h-1zM76 220h1v1h-1zM34 221h1v1h-1zM37 221h2v1h-2zM40 221h1v1h-1zM46 221h1v1h-1zM48 221h1v1h-1zM51 221h1v1h-1zM58 221h7v1h-7zM70 221h1v1h-1zM76 221h1v1h-1zM34 222h1v1h-1zM39 222h1v1h-1zM41 222h1v1h-1zM45 222h1v1h-1zM49 222h2v1h-2zM58 222h1v1h-1zM64 222h1v1h-1zM70 222h1v1h-1zM76 222h1v1h-1zM32 223h3v1h-3zM36 223h3v1h-3zM42 223h1v1h-1zM44 223h1v1h-1zM51 223h4v1h-4zM58 223h7v1h-7zM70 223h7v1h-7z"/><path fill="#18a018" d="M32 224h1v1h-1zM33 225h1v1h-1zM34 226h1v1h-1zM35 225h1v1h-1zM36 224h1v1h-1zM37 225h1v1h-1zM38 226h1v1h-1zM39 225h1v1h-1zM40 224h1v1h-1zM41 225h1v1h-1zM42 226h1v1h-1zM43 225h1v1h-1zM44 224h1v1h-1zM45 225h1v1h-1zM46 226h1v1h-1zM47 225h1v1h-1zM48 224h1v1h-1zM49 225h1v1h-1zM50 226h1v1h-1zM51 225h1v1h-1zM52 224h1v1h-1zM53 225h1v1h-1zM54 226h1v1h-1zM55 225h1v1h-1zM56 224h1v1h-1zM57 225h1v1h-1zM58 226h1v1h-1zM59 225h1v1h-1zM60 224h1v1h-1zM61 225h1v1h-1zM62 226h1v1h-1zM63 225h1v1h-1zM64 224h1v1h-1zM65 225h1v1h-1zM66 226h1v1h-1zM67 225h1v1h-1zM68 224h1v1h-1zM69 225h1v1h-1zM70 226h1v1h-1zM71 225h1v1h-1zM72 224h1v1h-1zM73 225h1v1h-1zM74 226h1v1h-1zM75 225h1v1h-1zM76 224h1v1h-1zM77 225h1v1h-1z"/><path d="M80.0 218.0h5" stroke="#9a9a9a" stroke-width="1"/><path d="M79.0 218.0l3 -2.5v5z" fill="#9a9a9a"/><text x="125.9" y="224.9" font-family="Liberation Serif" font-size="13.8px" textLength="43.3" lengthAdjust="spacingAndGlyphs" fill="#000">CTI/IVR</text><path fill="#000" d="M173 215h4v1h-4zM178 215h5v1h-5zM187 215h1v1h-1zM197 215h4v1h-4zM202 215h4v1h-4zM173 216h1v1h-1zM176 216h1v1h-1zM178 216h1v1h-1zM182 216h1v1h-1zM187 216h6v1h-6zM197 216h1v1h-1zM200 216h1v1h-1zM202 216h1v1h-1zM205 216h1v1h-1zM173 217h1v1h-1zM176 217h1v1h-1zM178 217h1v1h-1zM182 217h1v1h-1zM186 217h2v1h-2zM191 217h1v1h-1zM197 217h1v1h-1zM200 217h1v1h-1zM202 217h1v1h-1zM205 217h1v1h-1zM173 218h4v1h-4zM178 218h1v1h-1zM180 218h3v1h-3zM185 218h1v1h-1zM188 218h1v1h-1zM190 218h1v1h-1zM197 218h4v1h-4zM202 218h4v1h-4zM173 219h1v1h-1zM176 219h1v1h-1zM178 219h1v1h-1zM189 219h1v1h-1zM201 219h1v1h-1zM204 219h1v1h-1zM173 220h1v1h-1zM176 220h1v1h-1zM178 220h5v1h-5zM187 220h2v1h-2zM190 220h2v1h-2zM196 220h11v1h-11zM173 221h4v1h-4zM178 221h1v1h-1zM182 221h1v1h-1zM184 221h3v1h-3zM189 221h1v1h-1zM192 221h3v1h-3zM199 221h1v1h-1zM203 221h1v1h-1zM173 222h1v1h-1zM176 222h1v1h-1zM178 222h1v1h-1zM180 222h2v1h-2zM186 222h7v1h-7zM196 222h5v1h-5zM202 222h5v1h-5zM173 223h1v1h-1zM176 223h1v1h-1zM178 223h1v1h-1zM181 223h1v1h-1zM188 223h1v1h-1zM192 223h1v1h-1zM197 223h1v1h-1zM200 223h1v1h-1zM202 223h1v1h-1zM205 223h1v1h-1zM172 224h1v1h-1zM176 224h1v1h-1zM178 224h1v1h-1zM180 224h1v1h-1zM182 224h1v1h-1zM187 224h1v1h-1zM192 224h1v1h-1zM197 224h1v1h-1zM200 224h1v1h-1zM202 224h1v1h-1zM205 224h1v1h-1zM172 225h1v1h-1zM175 225h2v1h-2zM178 225h2v1h-2zM182 225h1v1h-1zM185 225h2v1h-2zM190 225h2v1h-2zM197 225h4v1h-4zM202 225h4v1h-4z"/><path d="M208.7 220.9h5" stroke="#9a9a9a" stroke-width="1"/><path d="M207.7 220.9l3 -2.5v5z" fill="#9a9a9a"/><path fill="#000" d="M217 218h10v1h-10zM231 218h1v1h-1zM234 218h4v1h-4zM242 218h1v1h-1zM247 218h1v1h-1zM255 218h1v1h-1zM262 218h1v1h-1zM217 219h1v1h-1zM220 219h1v1h-1zM226 219h1v1h-1zM231 219h1v1h-1zM233 219h1v1h-1zM236 219h1v1h-1zM242 219h1v1h-1zM244 219h7v1h-7zM253 219h1v1h-1zM255 219h1v1h-1zM260 219h1v1h-1zM262 219h1v1h-1zM217 220h1v1h-1zM220 220h5v1h-5zM226 220h1v1h-1zM230 220h1v1h-1zM232 220h7v1h-7zM240 220h5v1h-5zM250 220h1v1h-1zM253 220h6v1h-6zM260 220h1v1h-1zM262 220h1v1h-1zM217 221h1v1h-1zM219 221h2v1h-2zM223 221h1v1h-1zM226 221h1v1h-1zM230 221h2v1h-2zM233 221h1v1h-1zM235 221h1v1h-1zM238 221h1v1h-1zM242 221h1v1h-1zM246 221h1v1h-1zM248 221h1v1h-1zM252 221h1v1h-1zM255 221h1v1h-1zM260 221h1v1h-1zM262 221h1v1h-1zM217 222h2v1h-2zM221 222h2v1h-2zM226 222h1v1h-1zM229 222h2v1h-2zM233 222h6v1h-6zM242 222h1v1h-1zM245 222h1v1h-1zM249 222h1v1h-1zM252 222h7v1h-7zM260 222h1v1h-1zM262 222h1v1h-1zM217 223h1v1h-1zM220 223h1v1h-1zM223 223h1v1h-1zM226 223h1v1h-1zM228 223h1v1h-1zM230 223h1v1h-1zM234 223h1v1h-1zM238 223h1v1h-1zM242 223h3v1h-3zM250 223h1v1h-1zM255 223h1v1h-1zM260 223h1v1h-1zM262 223h1v1h-1zM217 224h3v1h-3zM221 224h1v1h-1zM224 224h3v1h-3zM230 224h1v1h-1zM232 224h2v1h-2zM235 224h1v1h-1zM237 224h1v1h-1zM241 224h2v1h-2zM245 224h5v1h-5zM253 224h6v1h-6zM260 224h1v1h-1zM262 224h1v1h-1zM217 225h1v1h-1zM222 225h1v1h-1zM226 225h1v1h-1zM230 225h1v1h-1zM234 225h1v1h-1zM236 225h1v1h-1zM240 225h1v1h-1zM242 225h1v1h-1zM247 225h1v1h-1zM253 225h1v1h-1zM255 225h1v1h-1zM258 225h1v1h-1zM260 225h1v1h-1zM262 225h1v1h-1zM217 226h1v1h-1zM221 226h1v1h-1zM226 226h1v1h-1zM230 226h1v1h-1zM232 226h2v1h-2zM235 226h3v1h-3zM242 226h1v1h-1zM247 226h1v1h-1zM253 226h1v1h-1zM255 226h1v1h-1zM258 226h1v1h-1zM262 226h1v1h-1zM217 227h1v1h-1zM222 227h1v1h-1zM226 227h1v1h-1zM230 227h1v1h-1zM234 227h1v1h-1zM236 227h1v1h-1zM238 227h1v1h-1zM242 227h1v1h-1zM247 227h1v1h-1zM253 227h1v1h-1zM255 227h1v1h-1zM257 227h2v1h-2zM262 227h1v1h-1zM217 228h10v1h-10zM230 228h1v1h-1zM232 228h2v1h-2zM235 228h2v1h-2zM240 228h3v1h-3zM244 228h7v1h-7zM255 228h1v1h-1zM260 228h3v1h-3z"/><path d="M270.5 219.0v4.5h-4.5" fill="none" stroke="#9a9a9a" stroke-width="1"/><path d="M265.0 223.5l2.5 -2v4z" fill="#9a9a9a"/><path fill="#000" d="M287 218h1v1h-1zM299 218h1v1h-1zM307 218h4v1h-4zM312 218h5v1h-5zM321 218h1v1h-1zM331 218h4v1h-4zM336 218h4v1h-4zM287 219h1v1h-1zM300 219h1v1h-1zM307 219h1v1h-1zM310 219h1v1h-1zM312 219h1v1h-1zM316 219h1v1h-1zM321 219h6v1h-6zM331 219h1v1h-1zM334 219h1v1h-1zM336 219h1v1h-1zM339 219h1v1h-1zM283 220h9v1h-9zM297 220h1v1h-1zM300 220h1v1h-1zM307 220h1v1h-1zM310 220h1v1h-1zM312 220h1v1h-1zM316 220h1v1h-1zM320 220h2v1h-2zM325 220h1v1h-1zM331 220h1v1h-1zM334 220h1v1h-1zM336 220h1v1h-1zM339 220h1v1h-1zM283 221h1v1h-1zM287 221h1v1h-1zM291 221h1v1h-1zM297 221h1v1h-1zM300 221h1v1h-1zM307 221h4v1h-4zM312 221h1v1h-1zM314 221h3v1h-3zM319 221h1v1h-1zM322 221h1v1h-1zM324 221h1v1h-1zM331 221h4v1h-4zM336 221h4v1h-4zM283 222h1v1h-1zM287 222h1v1h-1zM291 222h1v1h-1zM297 222h1v1h-1zM303 222h1v1h-1zM307 222h1v1h-1zM310 222h1v1h-1zM312 222h1v1h-1zM323 222h1v1h-1zM335 222h1v1h-1zM338 222h1v1h-1zM283 223h1v1h-1zM287 223h1v1h-1zM291 223h1v1h-1zM295 223h1v1h-1zM297 223h1v1h-1zM304 223h1v1h-1zM307 223h1v1h-1zM310 223h1v1h-1zM312 223h5v1h-5zM321 223h2v1h-2zM324 223h2v1h-2zM330 223h11v1h-11zM283 224h9v1h-9zM295 224h1v1h-1zM297 224h1v1h-1zM304 224h1v1h-1zM307 224h4v1h-4zM312 224h1v1h-1zM316 224h1v1h-1zM318 224h3v1h-3zM323 224h1v1h-1zM326 224h3v1h-3zM333 224h1v1h-1zM337 224h1v1h-1zM283 225h1v1h-1zM287 225h1v1h-1zM291 225h1v1h-1zM295 225h1v1h-1zM297 225h1v1h-1zM302 225h1v1h-1zM304 225h1v1h-1zM307 225h1v1h-1zM310 225h1v1h-1zM312 225h1v1h-1zM314 225h2v1h-2zM320 225h7v1h-7zM330 225h5v1h-5zM336 225h5v1h-5zM287 226h1v1h-1zM294 226h1v1h-1zM297 226h1v1h-1zM302 226h1v1h-1zM307 226h1v1h-1zM310 226h1v1h-1zM312 226h1v1h-1zM315 226h1v1h-1zM322 226h1v1h-1zM326 226h1v1h-1zM331 226h1v1h-1zM334 226h1v1h-1zM336 226h1v1h-1zM339 226h1v1h-1zM287 227h1v1h-1zM297 227h1v1h-1zM302 227h1v1h-1zM306 227h1v1h-1zM310 227h1v1h-1zM312 227h1v1h-1zM314 227h1v1h-1zM316 227h1v1h-1zM321 227h1v1h-1zM326 227h1v1h-1zM331 227h1v1h-1zM334 227h1v1h-1zM336 227h1v1h-1zM339 227h1v1h-1zM287 228h1v1h-1zM298 228h5v1h-5zM306 228h1v1h-1zM309 228h2v1h-2zM312 228h2v1h-2zM316 228h1v1h-1zM319 228h2v1h-2zM324 228h2v1h-2zM331 228h4v1h-4zM336 228h4v1h-4z"/><path d="M347.5 219.0v4.5h-4.5" fill="none" stroke="#9a9a9a" stroke-width="1"/><path d="M342.0 223.5l2.5 -2v4z" fill="#9a9a9a"/><path fill="#000" d="M358 215h10v1h-10zM371 215h1v1h-1zM375 215h1v1h-1zM385 215h1v1h-1zM394 215h2v1h-2zM400 215h1v1h-1zM403 215h1v1h-1zM358 216h1v1h-1zM367 216h1v1h-1zM371 216h1v1h-1zM375 216h4v1h-4zM381 216h11v1h-11zM394 216h1v1h-1zM396 216h1v1h-1zM398 216h5v1h-5zM358 217h1v1h-1zM361 217h1v1h-1zM365 217h1v1h-1zM367 217h1v1h-1zM370 217h1v1h-1zM374 217h1v1h-1zM378 217h1v1h-1zM384 217h1v1h-1zM394 217h1v1h-1zM400 217h1v1h-1zM402 217h1v1h-1zM358 218h2v1h-2zM361 218h1v1h-1zM363 218h1v1h-1zM365 218h1v1h-1zM367 218h1v1h-1zM370 218h1v1h-1zM372 218h1v1h-1zM374 218h2v1h-2zM377 218h1v1h-1zM383 218h1v1h-1zM385 218h6v1h-6zM394 218h3v1h-3zM398 218h6v1h-6zM358 219h1v1h-1zM360 219h1v1h-1zM364 219h1v1h-1zM367 219h1v1h-1zM369 219h3v1h-3zM373 219h1v1h-1zM376 219h1v1h-1zM383 219h1v1h-1zM389 219h1v1h-1zM393 219h2v1h-2zM396 219h1v1h-1zM400 219h1v1h-1zM358 220h1v1h-1zM361 220h1v1h-1zM364 220h1v1h-1zM367 220h1v1h-1zM371 220h1v1h-1zM375 220h1v1h-1zM377 220h1v1h-1zM382 220h2v1h-2zM388 220h1v1h-1zM394 220h1v1h-1zM396 220h1v1h-1zM399 220h4v1h-4zM358 221h1v1h-1zM360 221h1v1h-1zM362 221h2v1h-2zM365 221h1v1h-1zM367 221h1v1h-1zM370 221h1v1h-1zM373 221h2v1h-2zM378 221h2v1h-2zM381 221h1v1h-1zM383 221h9v1h-9zM394 221h1v1h-1zM396 221h1v1h-1zM398 221h2v1h-2zM402 221h1v1h-1zM358 222h2v1h-2zM363 222h1v1h-1zM365 222h1v1h-1zM367 222h1v1h-1zM369 222h4v1h-4zM374 222h5v1h-5zM383 222h1v1h-1zM388 222h1v1h-1zM394 222h1v1h-1zM396 222h1v1h-1zM399 222h4v1h-4zM358 223h1v1h-1zM362 223h1v1h-1zM367 223h1v1h-1zM374 223h1v1h-1zM378 223h1v1h-1zM383 223h1v1h-1zM388 223h1v1h-1zM394 223h1v1h-1zM396 223h2v1h-2zM399 223h1v1h-1zM402 223h1v1h-1zM358 224h1v1h-1zM367 224h1v1h-1zM371 224h2v1h-2zM374 224h1v1h-1zM378 224h1v1h-1zM383 224h1v1h-1zM388 224h1v1h-1zM394 224h1v1h-1zM396 224h1v1h-1zM399 224h1v1h-1zM402 224h1v1h-1zM358 225h1v1h-1zM365 225h3v1h-3zM369 225h2v1h-2zM374 225h5v1h-5zM383 225h1v1h-1zM386 225h3v1h-3zM394 225h1v1h-1zM399 225h4v1h-4z"/><path d="M411.5 216.0v4.5h-4.5" fill="none" stroke="#9a9a9a" stroke-width="1"/><path d="M406.0 220.5l2.5 -2v4z" fill="#9a9a9a"/><text x="413.9" y="207.9" font-family="Liberation Sans" font-size="12.0px" textLength="50.6" lengthAdjust="spacingAndGlyphs" fill="#000">WEB-GIS</text><path d="M466.0 204.1h5" stroke="#9a9a9a" stroke-width="1"/><path d="M465.0 204.1l3 -2.5v5z" fill="#9a9a9a"/><path fill="#000" d="M422 213h4v1h-4zM427 213h5v1h-5zM436 213h1v1h-1zM446 213h4v1h-4zM451 213h4v1h-4zM422 214h1v1h-1zM425 214h1v1h-1zM427 214h1v1h-1zM431 214h1v1h-1zM436 214h6v1h-6zM446 214h1v1h-1zM449 214h1v1h-1zM451 214h1v1h-1zM454 214h1v1h-1zM422 215h1v1h-1zM425 215h1v1h-1zM427 215h1v1h-1zM431 215h1v1h-1zM435 215h2v1h-2zM440 215h1v1h-1zM446 215h1v1h-1zM449 215h1v1h-1zM451 215h1v1h-1zM454 215h1v1h-1zM422 216h4v1h-4zM427 216h1v1h-1zM429 216h3v1h-3zM434 216h1v1h-1zM437 216h1v1h-1zM439 216h1v1h-1zM446 216h4v1h-4zM451 216h4v1h-4zM422 217h1v1h-1zM425 217h1v1h-1zM427 217h1v1h-1zM438 217h1v1h-1zM450 217h1v1h-1zM453 217h1v1h-1zM422 218h1v1h-1zM425 218h1v1h-1zM427 218h5v1h-5zM436 218h2v1h-2zM439 218h2v1h-2zM445 218h11v1h-11zM422 219h4v1h-4zM427 219h1v1h-1zM431 219h1v1h-1zM433 219h3v1h-3zM438 219h1v1h-1zM441 219h3v1h-3zM448 219h1v1h-1zM452 219h1v1h-1zM422 220h1v1h-1zM425 220h1v1h-1zM427 220h1v1h-1zM429 220h2v1h-2zM435 220h7v1h-7zM445 220h5v1h-5zM451 220h5v1h-5zM422 221h1v1h-1zM425 221h1v1h-1zM427 221h1v1h-1zM430 221h1v1h-1zM437 221h1v1h-1zM441 221h1v1h-1zM446 221h1v1h-1zM449 221h1v1h-1zM451 221h1v1h-1zM454 221h1v1h-1zM421 222h1v1h-1zM425 222h1v1h-1zM427 222h1v1h-1zM429 222h1v1h-1zM431 222h1v1h-1zM436 222h1v1h-1zM441 222h1v1h-1zM446 222h1v1h-1zM449 222h1v1h-1zM451 222h1v1h-1zM454 222h1v1h-1zM421 223h1v1h-1zM424 223h2v1h-2zM427 223h2v1h-2zM431 223h1v1h-1zM434 223h2v1h-2zM439 223h2v1h-2zM446 223h4v1h-4zM451 223h4v1h-4z"/><path d="M463.0 215.0v4.5h-4.5" fill="none" stroke="#9a9a9a" stroke-width="1"/><path d="M457.5 219.5l2.5 -2v4z" fill="#9a9a9a"/><path fill="#000" d="M485 215h4v1h-4zM491 215h1v1h-1zM502 215h1v1h-1zM510 215h1v1h-1zM516 215h1v1h-1zM485 216h1v1h-1zM488 216h1v1h-1zM492 216h1v1h-1zM502 216h1v1h-1zM510 216h1v1h-1zM513 216h7v1h-7zM485 217h1v1h-1zM487 217h1v1h-1zM489 217h7v1h-7zM499 217h1v1h-1zM502 217h1v1h-1zM506 217h1v1h-1zM510 217h1v1h-1zM513 217h1v1h-1zM516 217h1v1h-1zM519 217h1v1h-1zM485 218h2v1h-2zM491 218h1v1h-1zM499 218h1v1h-1zM502 218h1v1h-1zM505 218h1v1h-1zM509 218h4v1h-4zM514 218h1v1h-1zM516 218h1v1h-1zM518 218h1v1h-1zM485 219h1v1h-1zM487 219h1v1h-1zM491 219h4v1h-4zM499 219h1v1h-1zM502 219h1v1h-1zM504 219h1v1h-1zM510 219h1v1h-1zM513 219h7v1h-7zM485 220h1v1h-1zM488 220h1v1h-1zM491 220h1v1h-1zM494 220h1v1h-1zM498 220h1v1h-1zM502 220h1v1h-1zM510 220h1v1h-1zM485 221h1v1h-1zM488 221h1v1h-1zM491 221h1v1h-1zM494 221h1v1h-1zM501 221h1v1h-1zM503 221h1v1h-1zM510 221h1v1h-1zM513 221h7v1h-7zM485 222h2v1h-2zM488 222h1v1h-1zM491 222h1v1h-1zM494 222h1v1h-1zM501 222h1v1h-1zM503 222h1v1h-1zM510 222h4v1h-4zM519 222h1v1h-1zM485 223h1v1h-1zM487 223h1v1h-1zM490 223h1v1h-1zM494 223h1v1h-1zM500 223h1v1h-1zM504 223h1v1h-1zM509 223h2v1h-2zM513 223h1v1h-1zM515 223h3v1h-3zM519 223h1v1h-1zM485 224h1v1h-1zM489 224h1v1h-1zM494 224h1v1h-1zM499 224h1v1h-1zM505 224h1v1h-1zM513 224h1v1h-1zM515 224h1v1h-1zM517 224h1v1h-1zM519 224h1v1h-1zM485 225h1v1h-1zM488 225h1v1h-1zM492 225h2v1h-2zM497 225h2v1h-2zM506 225h2v1h-2zM513 225h7v1h-7z"/><path d="M528.5 218.0v4.5h-4.5" fill="none" stroke="#9a9a9a" stroke-width="1"/><path d="M523.0 222.5l2.5 -2v4z" fill="#9a9a9a"/><text x="536.7" y="213.8" font-family="Liberation Sans" font-size="12.0px" textLength="26.4" lengthAdjust="spacingAndGlyphs" fill="#000">WEB</text><path fill="#000" d="M568 203h4v1h-4zM573 203h5v1h-5zM582 203h1v1h-1zM592 203h4v1h-4zM597 203h4v1h-4zM568 204h1v1h-1zM571 204h1v1h-1zM573 204h1v1h-1zM577 204h1v1h-1zM582 204h6v1h-6zM592 204h1v1h-1zM595 204h1v1h-1zM597 204h1v1h-1zM600 204h1v1h-1zM568 205h1v1h-1zM571 205h1v1h-1zM573 205h1v1h-1zM577 205h1v1h-1zM581 205h2v1h-2zM586 205h1v1h-1zM592 205h1v1h-1zM595 205h1v1h-1zM597 205h1v1h-1zM600 205h1v1h-1zM568 206h4v1h-4zM573 206h1v1h-1zM575 206h3v1h-3zM580 206h1v1h-1zM583 206h1v1h-1zM585 206h1v1h-1zM592 206h4v1h-4zM597 206h4v1h-4zM568 207h1v1h-1zM571 207h1v1h-1zM573 207h1v1h-1zM584 207h1v1h-1zM596 207h1v1h-1zM599 207h1v1h-1zM568 208h1v1h-1zM571 208h1v1h-1zM573 208h5v1h-5zM582 208h2v1h-2zM585 208h2v1h-2zM591 208h11v1h-11zM568 209h4v1h-4zM573 209h1v1h-1zM577 209h1v1h-1zM579 209h3v1h-3zM584 209h1v1h-1zM587 209h3v1h-3zM594 209h1v1h-1zM598 209h1v1h-1zM568 210h1v1h-1zM571 210h1v1h-1zM573 210h1v1h-1zM575 210h2v1h-2zM581 210h7v1h-7zM591 210h5v1h-5zM597 210h5v1h-5zM568 211h1v1h-1zM571 211h1v1h-1zM573 211h1v1h-1zM576 211h1v1h-1zM583 211h1v1h-1zM587 211h1v1h-1zM592 211h1v1h-1zM595 211h1v1h-1zM597 211h1v1h-1zM600 211h1v1h-1zM567 212h1v1h-1zM571 212h1v1h-1zM573 212h1v1h-1zM575 212h1v1h-1zM577 212h1v1h-1zM582 212h1v1h-1zM587 212h1v1h-1zM592 212h1v1h-1zM595 212h1v1h-1zM597 212h1v1h-1zM600 212h1v1h-1zM567 213h1v1h-1zM570 213h2v1h-2zM573 213h2v1h-2zM577 213h1v1h-1zM580 213h2v1h-2zM585 213h2v1h-2zM592 213h4v1h-4zM597 213h4v1h-4z"/><path d="M603.3 210.1l3 -2.3v4.6z" fill="#9a9a9a"/><path fill="#000" d="M78 407h1v1h-1zM83 407h2v1h-2zM89 407h1v1h-1zM93 407h1v1h-1zM98 407h1v1h-1zM102 407h1v1h-1zM107 407h1v1h-1zM116 407h7v1h-7zM78 408h1v1h-1zM83 408h1v1h-1zM85 408h1v1h-1zM90 408h1v1h-1zM93 408h1v1h-1zM95 408h1v1h-1zM98 408h1v1h-1zM102 408h4v1h-4zM107 408h4v1h-4zM112 408h5v1h-5zM119 408h1v1h-1zM122 408h1v1h-1zM78 409h4v1h-4zM83 409h1v1h-1zM93 409h1v1h-1zM95 409h1v1h-1zM98 409h1v1h-1zM101 409h1v1h-1zM103 409h1v1h-1zM106 409h1v1h-1zM108 409h1v1h-1zM114 409h1v1h-1zM116 409h7v1h-7zM78 410h1v1h-1zM83 410h1v1h-1zM85 410h2v1h-2zM88 410h3v1h-3zM93 410h1v1h-1zM95 410h1v1h-1zM98 410h1v1h-1zM100 410h11v1h-11zM114 410h1v1h-1zM116 410h1v1h-1zM119 410h1v1h-1zM122 410h1v1h-1zM78 411h1v1h-1zM81 411h4v1h-4zM90 411h1v1h-1zM93 411h1v1h-1zM95 411h1v1h-1zM98 411h1v1h-1zM100 411h1v1h-1zM110 411h1v1h-1zM114 411h1v1h-1zM116 411h1v1h-1zM119 411h1v1h-1zM122 411h1v1h-1zM76 412h5v1h-5zM83 412h1v1h-1zM86 412h1v1h-1zM90 412h1v1h-1zM93 412h1v1h-1zM95 412h1v1h-1zM98 412h1v1h-1zM102 412h7v1h-7zM112 412h11v1h-11zM76 413h1v1h-1zM80 413h1v1h-1zM83 413h1v1h-1zM85 413h1v1h-1zM90 413h1v1h-1zM93 413h1v1h-1zM95 413h1v1h-1zM98 413h1v1h-1zM102 413h1v1h-1zM108 413h1v1h-1zM114 413h1v1h-1zM119 413h1v1h-1zM76 414h1v1h-1zM80 414h1v1h-1zM83 414h2v1h-2zM90 414h1v1h-1zM92 414h2v1h-2zM95 414h1v1h-1zM98 414h1v1h-1zM102 414h8v1h-8zM114 414h1v1h-1zM117 414h5v1h-5zM76 415h1v1h-1zM80 415h1v1h-1zM83 415h1v1h-1zM86 415h1v1h-1zM90 415h2v1h-2zM93 415h1v1h-1zM95 415h1v1h-1zM98 415h1v1h-1zM102 415h1v1h-1zM109 415h1v1h-1zM114 415h2v1h-2zM119 415h1v1h-1zM76 416h7v1h-7zM84 416h1v1h-1zM86 416h1v1h-1zM90 416h1v1h-1zM93 416h1v1h-1zM98 416h1v1h-1zM102 416h1v1h-1zM109 416h1v1h-1zM112 416h2v1h-2zM119 416h1v1h-1zM76 417h1v1h-1zM80 417h1v1h-1zM85 417h2v1h-2zM92 417h1v1h-1zM98 417h1v1h-1zM102 417h8v1h-8zM116 417h7v1h-7z"/><path d="M125.0 412.5h5" stroke="#9a9a9a" stroke-width="1"/><path d="M124.0 412.5l3 -2.5v5z" fill="#9a9a9a"/><path fill="#000" d="M139 407h1v1h-1zM144 407h1v1h-1zM146 407h1v1h-1zM156 407h1v1h-1zM162 407h1v1h-1zM167 407h1v1h-1zM174 407h1v1h-1zM179 407h1v1h-1zM137 408h11v1h-11zM150 408h4v1h-4zM156 408h1v1h-1zM163 408h1v1h-1zM167 408h1v1h-1zM174 408h4v1h-4zM179 408h5v1h-5zM138 409h1v1h-1zM144 409h1v1h-1zM150 409h1v1h-1zM153 409h1v1h-1zM156 409h1v1h-1zM163 409h1v1h-1zM165 409h6v1h-6zM173 409h1v1h-1zM175 409h1v1h-1zM179 409h1v1h-1zM181 409h1v1h-1zM138 410h2v1h-2zM142 410h6v1h-6zM150 410h1v1h-1zM153 410h1v1h-1zM155 410h5v1h-5zM167 410h1v1h-1zM170 410h1v1h-1zM176 410h1v1h-1zM178 410h1v1h-1zM182 410h1v1h-1zM137 411h1v1h-1zM139 411h1v1h-1zM142 411h1v1h-1zM144 411h1v1h-1zM147 411h1v1h-1zM150 411h4v1h-4zM156 411h1v1h-1zM159 411h1v1h-1zM163 411h1v1h-1zM167 411h1v1h-1zM170 411h1v1h-1zM173 411h11v1h-11zM137 412h11v1h-11zM150 412h1v1h-1zM153 412h1v1h-1zM156 412h1v1h-1zM159 412h1v1h-1zM163 412h1v1h-1zM167 412h1v1h-1zM170 412h1v1h-1zM178 412h1v1h-1zM139 413h1v1h-1zM142 413h1v1h-1zM144 413h1v1h-1zM147 413h1v1h-1zM150 413h4v1h-4zM156 413h1v1h-1zM159 413h1v1h-1zM162 413h1v1h-1zM164 413h8v1h-8zM174 413h9v1h-9zM139 414h9v1h-9zM150 414h1v1h-1zM153 414h1v1h-1zM156 414h1v1h-1zM159 414h1v1h-1zM161 414h2v1h-2zM167 414h1v1h-1zM174 414h1v1h-1zM177 414h3v1h-3zM182 414h1v1h-1zM137 415h3v1h-3zM142 415h1v1h-1zM144 415h1v1h-1zM147 415h1v1h-1zM150 415h1v1h-1zM152 415h4v1h-4zM159 415h1v1h-1zM162 415h1v1h-1zM166 415h1v1h-1zM168 415h1v1h-1zM174 415h1v1h-1zM176 415h1v1h-1zM178 415h1v1h-1zM180 415h1v1h-1zM182 415h1v1h-1zM139 416h1v1h-1zM142 416h1v1h-1zM144 416h1v1h-1zM147 416h1v1h-1zM149 416h3v1h-3zM155 416h1v1h-1zM157 416h1v1h-1zM159 416h1v1h-1zM162 416h1v1h-1zM165 416h1v1h-1zM169 416h1v1h-1zM175 416h1v1h-1zM178 416h1v1h-1zM181 416h1v1h-1zM139 417h1v1h-1zM142 417h1v1h-1zM144 417h1v1h-1zM146 417h2v1h-2zM154 417h1v1h-1zM158 417h1v1h-1zM162 417h1v1h-1zM164 417h1v1h-1zM170 417h2v1h-2zM173 417h2v1h-2zM178 417h1v1h-1zM182 417h2v1h-2z"/><path d="M186.0 412.5h5" stroke="#9a9a9a" stroke-width="1"/><path d="M185.0 412.5l3 -2.5v5z" fill="#9a9a9a"/><path fill="#000" d="M203 407h1v1h-1zM214 407h1v1h-1zM223 407h1v1h-1zM228 407h1v1h-1zM237 407h7v1h-7zM197 408h3v1h-3zM201 408h6v1h-6zM209 408h11v1h-11zM223 408h4v1h-4zM228 408h4v1h-4zM233 408h5v1h-5zM240 408h1v1h-1zM243 408h1v1h-1zM199 409h1v1h-1zM203 409h1v1h-1zM206 409h1v1h-1zM209 409h1v1h-1zM214 409h1v1h-1zM219 409h1v1h-1zM222 409h1v1h-1zM224 409h1v1h-1zM227 409h1v1h-1zM229 409h1v1h-1zM235 409h1v1h-1zM237 409h7v1h-7zM198 410h1v1h-1zM200 410h8v1h-8zM210 410h9v1h-9zM221 410h11v1h-11zM235 410h1v1h-1zM237 410h1v1h-1zM240 410h1v1h-1zM243 410h1v1h-1zM197 411h3v1h-3zM203 411h1v1h-1zM206 411h1v1h-1zM210 411h1v1h-1zM214 411h1v1h-1zM218 411h1v1h-1zM221 411h1v1h-1zM231 411h1v1h-1zM235 411h1v1h-1zM237 411h1v1h-1zM240 411h1v1h-1zM243 411h1v1h-1zM199 412h1v1h-1zM201 412h6v1h-6zM210 412h9v1h-9zM223 412h7v1h-7zM233 412h11v1h-11zM197 413h1v1h-1zM199 413h1v1h-1zM203 413h1v1h-1zM210 413h1v1h-1zM214 413h1v1h-1zM218 413h1v1h-1zM223 413h1v1h-1zM229 413h1v1h-1zM235 413h1v1h-1zM240 413h1v1h-1zM198 414h2v1h-2zM201 414h7v1h-7zM210 414h9v1h-9zM223 414h8v1h-8zM235 414h1v1h-1zM238 414h5v1h-5zM199 415h1v1h-1zM203 415h1v1h-1zM210 415h1v1h-1zM214 415h1v1h-1zM218 415h1v1h-1zM223 415h1v1h-1zM230 415h1v1h-1zM235 415h2v1h-2zM240 415h1v1h-1zM198 416h1v1h-1zM200 416h1v1h-1zM203 416h1v1h-1zM214 416h1v1h-1zM223 416h1v1h-1zM230 416h1v1h-1zM233 416h2v1h-2zM240 416h1v1h-1zM197 417h1v1h-1zM201 417h7v1h-7zM214 417h1v1h-1zM223 417h8v1h-8zM237 417h7v1h-7z"/><path fill="#18a018" d="M198 418h1v1h-1zM199 419h1v1h-1zM200 420h1v1h-1zM201 419h1v1h-1zM202 418h1v1h-1zM203 419h1v1h-1zM204 420h1v1h-1zM205 419h1v1h-1zM206 418h1v1h-1zM207 419h1v1h-1zM208 420h1v1h-1zM209 419h1v1h-1zM210 418h1v1h-1zM211 419h1v1h-1zM212 420h1v1h-1zM213 419h1v1h-1zM214 418h1v1h-1zM215 419h1v1h-1zM216 420h1v1h-1zM217 419h1v1h-1zM218 418h1v1h-1zM219 419h1v1h-1zM220 420h1v1h-1zM221 419h1v1h-1zM222 418h1v1h-1zM223 419h1v1h-1zM224 420h1v1h-1zM225 419h1v1h-1zM226 418h1v1h-1zM227 419h1v1h-1zM228 420h1v1h-1zM229 419h1v1h-1zM230 418h1v1h-1zM231 419h1v1h-1zM232 420h1v1h-1zM233 419h1v1h-1zM234 418h1v1h-1zM235 419h1v1h-1zM236 420h1v1h-1zM237 419h1v1h-1zM238 418h1v1h-1zM239 419h1v1h-1zM240 420h1v1h-1zM241 419h1v1h-1zM242 418h1v1h-1zM243 419h1v1h-1zM244 420h1v1h-1z"/><path fill="#000" d="M259 407h1v1h-1zM262 407h1v1h-1zM265 407h1v1h-1zM268 407h1v1h-1zM270 407h4v1h-4zM276 407h1v1h-1zM285 407h1v1h-1zM288 407h1v1h-1zM298 407h1v1h-1zM260 408h1v1h-1zM263 408h1v1h-1zM265 408h1v1h-1zM267 408h1v1h-1zM270 408h1v1h-1zM273 408h1v1h-1zM277 408h1v1h-1zM285 408h1v1h-1zM289 408h1v1h-1zM296 408h7v1h-7zM258 409h1v1h-1zM265 409h1v1h-1zM270 409h1v1h-1zM272 409h1v1h-1zM274 409h7v1h-7zM284 409h1v1h-1zM286 409h7v1h-7zM296 409h1v1h-1zM302 409h1v1h-1zM259 410h1v1h-1zM261 410h1v1h-1zM263 410h6v1h-6zM270 410h2v1h-2zM276 410h1v1h-1zM284 410h1v1h-1zM296 410h7v1h-7zM261 411h1v1h-1zM263 411h1v1h-1zM268 411h1v1h-1zM270 411h1v1h-1zM272 411h1v1h-1zM276 411h4v1h-4zM283 411h2v1h-2zM287 411h5v1h-5zM296 411h1v1h-1zM302 411h1v1h-1zM260 412h1v1h-1zM263 412h6v1h-6zM270 412h1v1h-1zM273 412h1v1h-1zM276 412h1v1h-1zM279 412h1v1h-1zM282 412h1v1h-1zM284 412h1v1h-1zM296 412h7v1h-7zM260 413h1v1h-1zM263 413h1v1h-1zM268 413h1v1h-1zM270 413h1v1h-1zM273 413h1v1h-1zM276 413h1v1h-1zM279 413h1v1h-1zM284 413h1v1h-1zM287 413h5v1h-5zM296 413h1v1h-1zM302 413h1v1h-1zM258 414h2v1h-2zM263 414h6v1h-6zM270 414h2v1h-2zM273 414h1v1h-1zM276 414h1v1h-1zM279 414h1v1h-1zM284 414h1v1h-1zM296 414h7v1h-7zM259 415h1v1h-1zM263 415h1v1h-1zM268 415h1v1h-1zM270 415h1v1h-1zM272 415h1v1h-1zM275 415h1v1h-1zM279 415h1v1h-1zM284 415h1v1h-1zM287 415h5v1h-5zM295 415h1v1h-1zM297 415h1v1h-1zM299 415h1v1h-1zM303 415h1v1h-1zM259 416h1v1h-1zM263 416h1v1h-1zM268 416h1v1h-1zM270 416h1v1h-1zM274 416h1v1h-1zM279 416h1v1h-1zM284 416h1v1h-1zM287 416h1v1h-1zM291 416h1v1h-1zM295 416h1v1h-1zM297 416h1v1h-1zM300 416h1v1h-1zM302 416h1v1h-1zM304 416h1v1h-1zM259 417h1v1h-1zM263 417h1v1h-1zM267 417h2v1h-2zM270 417h1v1h-1zM273 417h1v1h-1zM277 417h2v1h-2zM284 417h1v1h-1zM287 417h5v1h-5zM294 417h1v1h-1zM298 417h5v1h-5z"/><path d="M307.0 412.0h5" stroke="#9a9a9a" stroke-width="1"/><path d="M306.0 412.0l3 -2.5v5z" fill="#9a9a9a"/><path fill="#000" d="M333 404h1v1h-1zM336 404h1v1h-1zM342 404h1v1h-1zM347 404h1v1h-1zM350 404h1v1h-1zM357 404h4v1h-4zM362 404h4v1h-4zM334 405h1v1h-1zM337 405h1v1h-1zM342 405h1v1h-1zM345 405h1v1h-1zM347 405h1v1h-1zM350 405h5v1h-5zM357 405h1v1h-1zM360 405h1v1h-1zM362 405h1v1h-1zM365 405h1v1h-1zM332 406h1v1h-1zM335 406h4v1h-4zM340 406h1v1h-1zM342 406h1v1h-1zM345 406h1v1h-1zM347 406h1v1h-1zM349 406h1v1h-1zM352 406h1v1h-1zM357 406h1v1h-1zM360 406h1v1h-1zM362 406h1v1h-1zM365 406h1v1h-1zM333 407h1v1h-1zM338 407h1v1h-1zM340 407h1v1h-1zM342 407h1v1h-1zM345 407h1v1h-1zM347 407h1v1h-1zM353 407h1v1h-1zM357 407h4v1h-4zM362 407h4v1h-4zM336 408h1v1h-1zM338 408h1v1h-1zM340 408h1v1h-1zM342 408h1v1h-1zM346 408h7v1h-7zM361 408h1v1h-1zM364 408h1v1h-1zM334 409h1v1h-1zM337 409h1v1h-1zM340 409h1v1h-1zM342 409h1v1h-1zM346 409h1v1h-1zM352 409h1v1h-1zM356 409h11v1h-11zM334 410h1v1h-1zM337 410h1v1h-1zM340 410h1v1h-1zM342 410h1v1h-1zM346 410h1v1h-1zM349 410h1v1h-1zM352 410h1v1h-1zM359 410h1v1h-1zM363 410h1v1h-1zM332 411h2v1h-2zM336 411h1v1h-1zM338 411h1v1h-1zM340 411h1v1h-1zM342 411h1v1h-1zM346 411h1v1h-1zM349 411h1v1h-1zM352 411h1v1h-1zM356 411h5v1h-5zM362 411h5v1h-5zM333 412h1v1h-1zM335 412h1v1h-1zM338 412h1v1h-1zM342 412h1v1h-1zM346 412h1v1h-1zM349 412h1v1h-1zM352 412h1v1h-1zM354 412h1v1h-1zM357 412h1v1h-1zM360 412h1v1h-1zM362 412h1v1h-1zM365 412h1v1h-1zM333 413h2v1h-2zM342 413h1v1h-1zM347 413h2v1h-2zM350 413h1v1h-1zM354 413h1v1h-1zM357 413h1v1h-1zM360 413h1v1h-1zM362 413h1v1h-1zM365 413h1v1h-1zM333 414h1v1h-1zM341 414h2v1h-2zM344 414h3v1h-3zM350 414h5v1h-5zM357 414h4v1h-4zM362 414h4v1h-4z"/><path d="M372.5 405.0v4.5h-4.5" fill="none" stroke="#9a9a9a" stroke-width="1"/><path d="M367.0 409.5l2.5 -2v4z" fill="#9a9a9a"/><path fill="#000" d="M399 419h9v1h-9zM412 419h1v1h-1zM416 419h1v1h-1zM418 419h1v1h-1zM423 419h10v1h-10zM436 419h1v1h-1zM442 419h1v1h-1zM403 420h1v1h-1zM412 420h1v1h-1zM416 420h1v1h-1zM419 420h1v1h-1zM423 420h1v1h-1zM432 420h1v1h-1zM437 420h1v1h-1zM441 420h1v1h-1zM403 421h1v1h-1zM411 421h1v1h-1zM416 421h4v1h-4zM423 421h1v1h-1zM426 421h1v1h-1zM430 421h1v1h-1zM432 421h1v1h-1zM435 421h9v1h-9zM403 422h1v1h-1zM411 422h1v1h-1zM414 422h3v1h-3zM423 422h2v1h-2zM426 422h1v1h-1zM428 422h1v1h-1zM430 422h1v1h-1zM432 422h1v1h-1zM439 422h1v1h-1zM398 423h11v1h-11zM410 423h3v1h-3zM416 423h5v1h-5zM423 423h1v1h-1zM425 423h1v1h-1zM429 423h1v1h-1zM432 423h1v1h-1zM439 423h1v1h-1zM402 424h1v1h-1zM404 424h1v1h-1zM412 424h1v1h-1zM414 424h3v1h-3zM423 424h1v1h-1zM426 424h1v1h-1zM429 424h1v1h-1zM432 424h1v1h-1zM434 424h10v1h-10zM402 425h1v1h-1zM404 425h1v1h-1zM411 425h1v1h-1zM416 425h1v1h-1zM419 425h1v1h-1zM423 425h1v1h-1zM425 425h1v1h-1zM427 425h2v1h-2zM430 425h1v1h-1zM432 425h1v1h-1zM439 425h1v1h-1zM401 426h1v1h-1zM404 426h1v1h-1zM410 426h4v1h-4zM416 426h1v1h-1zM418 426h1v1h-1zM423 426h2v1h-2zM428 426h1v1h-1zM430 426h1v1h-1zM432 426h1v1h-1zM438 426h1v1h-1zM440 426h1v1h-1zM401 427h1v1h-1zM404 427h1v1h-1zM408 427h1v1h-1zM414 427h1v1h-1zM417 427h1v1h-1zM420 427h1v1h-1zM423 427h1v1h-1zM427 427h1v1h-1zM432 427h1v1h-1zM437 427h1v1h-1zM441 427h1v1h-1zM400 428h1v1h-1zM404 428h1v1h-1zM408 428h1v1h-1zM412 428h2v1h-2zM416 428h1v1h-1zM418 428h1v1h-1zM420 428h1v1h-1zM423 428h1v1h-1zM432 428h1v1h-1zM436 428h1v1h-1zM442 428h1v1h-1zM398 429h2v1h-2zM405 429h4v1h-4zM410 429h2v1h-2zM414 429h2v1h-2zM419 429h2v1h-2zM423 429h1v1h-1zM430 429h3v1h-3zM434 429h2v1h-2zM443 429h2v1h-2z"/><path d="M451.5 421.0v4.5h-4.5" fill="none" stroke="#9a9a9a" stroke-width="1"/><path d="M446.0 425.5l2.5 -2v4z" fill="#9a9a9a"/><text x="464.6" y="414.5" font-family="Liberation Sans" font-size="12.0px" textLength="23.2" lengthAdjust="spacingAndGlyphs" fill="#000">GPS</text><path fill="#000" d="M496 406h1v1h-1zM498 406h1v1h-1zM506 406h1v1h-1zM511 406h1v1h-1zM493 407h1v1h-1zM496 407h1v1h-1zM498 407h1v1h-1zM506 407h1v1h-1zM508 407h7v1h-7zM493 408h1v1h-1zM496 408h1v1h-1zM498 408h5v1h-5zM504 408h5v1h-5zM514 408h1v1h-1zM493 409h1v1h-1zM496 409h1v1h-1zM498 409h1v1h-1zM506 409h1v1h-1zM510 409h1v1h-1zM512 409h1v1h-1zM493 410h1v1h-1zM496 410h2v1h-2zM500 410h1v1h-1zM506 410h1v1h-1zM509 410h1v1h-1zM513 410h1v1h-1zM493 411h1v1h-1zM496 411h1v1h-1zM501 411h1v1h-1zM506 411h3v1h-3zM514 411h1v1h-1zM496 412h1v1h-1zM505 412h2v1h-2zM509 412h5v1h-5zM493 413h9v1h-9zM504 413h1v1h-1zM506 413h1v1h-1zM511 413h1v1h-1zM493 414h1v1h-1zM496 414h1v1h-1zM498 414h1v1h-1zM501 414h1v1h-1zM506 414h1v1h-1zM511 414h1v1h-1zM493 415h1v1h-1zM496 415h1v1h-1zM498 415h1v1h-1zM501 415h1v1h-1zM506 415h1v1h-1zM511 415h1v1h-1zM492 416h11v1h-11zM504 416h3v1h-3zM508 416h7v1h-7z"/><path d="M515.7 411.1l3 -2.3v4.6z" fill="#9a9a9a"/><path fill="#000" d="M544 397h1v1h-1zM558 397h1v1h-1zM568 397h1v1h-1zM544 398h1v1h-1zM547 398h6v1h-6zM555 398h3v1h-3zM560 398h5v1h-5zM568 398h1v1h-1zM571 398h4v1h-4zM542 399h5v1h-5zM550 399h1v1h-1zM555 399h1v1h-1zM560 399h1v1h-1zM564 399h1v1h-1zM568 399h1v1h-1zM571 399h1v1h-1zM574 399h1v1h-1zM544 400h1v1h-1zM550 400h1v1h-1zM555 400h1v1h-1zM560 400h1v1h-1zM564 400h1v1h-1zM566 400h6v1h-6zM574 400h1v1h-1zM544 401h1v1h-1zM546 401h1v1h-1zM550 401h1v1h-1zM555 401h4v1h-4zM560 401h1v1h-1zM564 401h1v1h-1zM568 401h1v1h-1zM571 401h1v1h-1zM574 401h1v1h-1zM544 402h2v1h-2zM550 402h1v1h-1zM555 402h1v1h-1zM560 402h1v1h-1zM564 402h1v1h-1zM567 402h3v1h-3zM571 402h1v1h-1zM574 402h1v1h-1zM543 403h2v1h-2zM550 403h1v1h-1zM555 403h1v1h-1zM560 403h1v1h-1zM564 403h1v1h-1zM567 403h2v1h-2zM570 403h2v1h-2zM574 403h1v1h-1zM542 404h1v1h-1zM544 404h1v1h-1zM550 404h1v1h-1zM555 404h1v1h-1zM558 404h1v1h-1zM560 404h1v1h-1zM564 404h1v1h-1zM566 404h1v1h-1zM568 404h1v1h-1zM571 404h1v1h-1zM574 404h1v1h-1zM544 405h1v1h-1zM550 405h1v1h-1zM555 405h3v1h-3zM560 405h1v1h-1zM562 405h2v1h-2zM566 405h1v1h-1zM568 405h1v1h-1zM571 405h1v1h-1zM574 405h1v1h-1zM544 406h1v1h-1zM550 406h1v1h-1zM555 406h1v1h-1zM560 406h1v1h-1zM568 406h1v1h-1zM570 406h1v1h-1zM574 406h1v1h-1zM576 406h1v1h-1zM542 407h3v1h-3zM548 407h3v1h-3zM560 407h1v1h-1zM568 407h2v1h-2zM574 407h3v1h-3z"/><path d="M584.5 398.0v4.5h-4.5" fill="none" stroke="#9a9a9a" stroke-width="1"/><path d="M579.0 402.5l2.5 -2v4z" fill="#9a9a9a"/><path d="M184.5 529.0v4.5h-4.5" fill="none" stroke="#9a9a9a" stroke-width="1"/><path d="M179.0 533.5l2.5 -2v4z" fill="#9a9a9a"/><path fill="#000" d="M144 598h4v1h-4zM149 598h1v1h-1zM161 598h1v1h-1zM169 598h4v1h-4zM174 598h4v1h-4zM144 599h1v1h-1zM147 599h1v1h-1zM149 599h5v1h-5zM161 599h1v1h-1zM169 599h1v1h-1zM172 599h1v1h-1zM174 599h1v1h-1zM177 599h1v1h-1zM144 600h1v1h-1zM147 600h1v1h-1zM149 600h1v1h-1zM153 600h1v1h-1zM157 600h9v1h-9zM169 600h1v1h-1zM172 600h1v1h-1zM174 600h1v1h-1zM177 600h1v1h-1zM144 601h1v1h-1zM147 601h2v1h-2zM150 601h1v1h-1zM152 601h1v1h-1zM157 601h1v1h-1zM161 601h1v1h-1zM165 601h1v1h-1zM169 601h4v1h-4zM174 601h4v1h-4zM144 602h4v1h-4zM151 602h1v1h-1zM157 602h1v1h-1zM161 602h1v1h-1zM165 602h1v1h-1zM173 602h1v1h-1zM176 602h1v1h-1zM146 603h1v1h-1zM150 603h1v1h-1zM152 603h1v1h-1zM157 603h9v1h-9zM168 603h11v1h-11zM144 604h1v1h-1zM146 604h2v1h-2zM149 604h1v1h-1zM153 604h1v1h-1zM157 604h1v1h-1zM161 604h1v1h-1zM165 604h1v1h-1zM171 604h1v1h-1zM175 604h1v1h-1zM144 605h1v1h-1zM146 605h1v1h-1zM148 605h7v1h-7zM157 605h1v1h-1zM161 605h1v1h-1zM165 605h1v1h-1zM168 605h5v1h-5zM174 605h5v1h-5zM144 606h1v1h-1zM146 606h1v1h-1zM149 606h1v1h-1zM153 606h1v1h-1zM157 606h1v1h-1zM161 606h1v1h-1zM165 606h1v1h-1zM169 606h1v1h-1zM172 606h1v1h-1zM174 606h1v1h-1zM177 606h1v1h-1zM144 607h1v1h-1zM146 607h2v1h-2zM149 607h1v1h-1zM153 607h1v1h-1zM157 607h9v1h-9zM169 607h1v1h-1zM172 607h1v1h-1zM174 607h1v1h-1zM177 607h1v1h-1zM144 608h2v1h-2zM149 608h5v1h-5zM157 608h1v1h-1zM165 608h1v1h-1zM169 608h4v1h-4zM174 608h4v1h-4z"/><path d="M185.5 600.0v4.5h-4.5" fill="none" stroke="#9a9a9a" stroke-width="1"/><path d="M180.0 604.5l2.5 -2v4z" fill="#9a9a9a"/><path fill="#000" d="M278 516h1v1h-1zM281 516h1v1h-1zM284 516h1v1h-1zM287 516h1v1h-1zM289 516h4v1h-4zM295 516h1v1h-1zM306 516h1v1h-1zM313 516h4v1h-4zM320 516h1v1h-1zM279 517h1v1h-1zM282 517h1v1h-1zM284 517h1v1h-1zM286 517h1v1h-1zM289 517h1v1h-1zM292 517h1v1h-1zM296 517h1v1h-1zM306 517h1v1h-1zM313 517h1v1h-1zM316 517h1v1h-1zM320 517h1v1h-1zM277 518h1v1h-1zM284 518h1v1h-1zM289 518h1v1h-1zM291 518h1v1h-1zM293 518h7v1h-7zM302 518h9v1h-9zM313 518h1v1h-1zM315 518h1v1h-1zM320 518h1v1h-1zM278 519h1v1h-1zM280 519h1v1h-1zM282 519h6v1h-6zM289 519h2v1h-2zM295 519h1v1h-1zM302 519h1v1h-1zM306 519h1v1h-1zM310 519h1v1h-1zM313 519h2v1h-2zM320 519h1v1h-1zM280 520h1v1h-1zM282 520h1v1h-1zM287 520h1v1h-1zM289 520h1v1h-1zM291 520h1v1h-1zM295 520h4v1h-4zM302 520h1v1h-1zM306 520h1v1h-1zM310 520h1v1h-1zM313 520h1v1h-1zM315 520h1v1h-1zM320 520h1v1h-1zM279 521h1v1h-1zM282 521h6v1h-6zM289 521h1v1h-1zM292 521h1v1h-1zM295 521h1v1h-1zM298 521h1v1h-1zM302 521h1v1h-1zM306 521h1v1h-1zM310 521h1v1h-1zM313 521h1v1h-1zM316 521h1v1h-1zM320 521h1v1h-1zM279 522h1v1h-1zM282 522h1v1h-1zM287 522h1v1h-1zM289 522h1v1h-1zM292 522h1v1h-1zM295 522h1v1h-1zM298 522h1v1h-1zM302 522h9v1h-9zM313 522h1v1h-1zM316 522h1v1h-1zM320 522h1v1h-1zM277 523h2v1h-2zM282 523h6v1h-6zM289 523h2v1h-2zM292 523h1v1h-1zM295 523h1v1h-1zM298 523h1v1h-1zM302 523h1v1h-1zM306 523h1v1h-1zM310 523h1v1h-1zM313 523h2v1h-2zM316 523h1v1h-1zM319 523h1v1h-1zM321 523h1v1h-1zM278 524h1v1h-1zM282 524h1v1h-1zM287 524h1v1h-1zM289 524h1v1h-1zM291 524h1v1h-1zM294 524h1v1h-1zM298 524h1v1h-1zM306 524h1v1h-1zM313 524h1v1h-1zM315 524h1v1h-1zM319 524h1v1h-1zM321 524h1v1h-1zM278 525h1v1h-1zM282 525h1v1h-1zM287 525h1v1h-1zM289 525h1v1h-1zM293 525h1v1h-1zM298 525h1v1h-1zM306 525h1v1h-1zM313 525h1v1h-1zM318 525h1v1h-1zM322 525h1v1h-1zM278 526h1v1h-1zM282 526h1v1h-1zM286 526h2v1h-2zM289 526h1v1h-1zM292 526h1v1h-1zM296 526h2v1h-2zM306 526h1v1h-1zM313 526h1v1h-1zM316 526h2v1h-2zM323 526h1v1h-1z"/><path d="M327.0 522.0h5" stroke="#9a9a9a" stroke-width="1"/><path d="M326.0 522.0l3 -2.5v5z" fill="#9a9a9a"/><path fill="#000" d="M280 609h1v1h-1zM283 609h1v1h-1zM286 609h1v1h-1zM289 609h1v1h-1zM291 609h4v1h-4zM297 609h1v1h-1zM308 609h1v1h-1zM315 609h4v1h-4zM322 609h1v1h-1zM281 610h1v1h-1zM284 610h1v1h-1zM286 610h1v1h-1zM288 610h1v1h-1zM291 610h1v1h-1zM294 610h1v1h-1zM298 610h1v1h-1zM308 610h1v1h-1zM315 610h1v1h-1zM318 610h1v1h-1zM322 610h1v1h-1zM279 611h1v1h-1zM286 611h1v1h-1zM291 611h1v1h-1zM293 611h1v1h-1zM295 611h7v1h-7zM304 611h9v1h-9zM315 611h1v1h-1zM317 611h1v1h-1zM322 611h1v1h-1zM280 612h1v1h-1zM282 612h1v1h-1zM284 612h6v1h-6zM291 612h2v1h-2zM297 612h1v1h-1zM304 612h1v1h-1zM308 612h1v1h-1zM312 612h1v1h-1zM315 612h2v1h-2zM322 612h1v1h-1zM282 613h1v1h-1zM284 613h1v1h-1zM289 613h1v1h-1zM291 613h1v1h-1zM293 613h1v1h-1zM297 613h4v1h-4zM304 613h1v1h-1zM308 613h1v1h-1zM312 613h1v1h-1zM315 613h1v1h-1zM317 613h1v1h-1zM322 613h1v1h-1zM281 614h1v1h-1zM284 614h6v1h-6zM291 614h1v1h-1zM294 614h1v1h-1zM297 614h1v1h-1zM300 614h1v1h-1zM304 614h1v1h-1zM308 614h1v1h-1zM312 614h1v1h-1zM315 614h1v1h-1zM318 614h1v1h-1zM322 614h1v1h-1zM281 615h1v1h-1zM284 615h1v1h-1zM289 615h1v1h-1zM291 615h1v1h-1zM294 615h1v1h-1zM297 615h1v1h-1zM300 615h1v1h-1zM304 615h9v1h-9zM315 615h1v1h-1zM318 615h1v1h-1zM322 615h1v1h-1zM279 616h2v1h-2zM284 616h6v1h-6zM291 616h2v1h-2zM294 616h1v1h-1zM297 616h1v1h-1zM300 616h1v1h-1zM304 616h1v1h-1zM308 616h1v1h-1zM312 616h1v1h-1zM315 616h2v1h-2zM318 616h1v1h-1zM321 616h1v1h-1zM323 616h1v1h-1zM280 617h1v1h-1zM284 617h1v1h-1zM289 617h1v1h-1zM291 617h1v1h-1zM293 617h1v1h-1zM296 617h1v1h-1zM300 617h1v1h-1zM308 617h1v1h-1zM315 617h1v1h-1zM317 617h1v1h-1zM321 617h1v1h-1zM323 617h1v1h-1zM280 618h1v1h-1zM284 618h1v1h-1zM289 618h1v1h-1zM291 618h1v1h-1zM295 618h1v1h-1zM300 618h1v1h-1zM308 618h1v1h-1zM315 618h1v1h-1zM320 618h1v1h-1zM324 618h1v1h-1zM280 619h1v1h-1zM284 619h1v1h-1zM288 619h2v1h-2zM291 619h1v1h-1zM294 619h1v1h-1zM298 619h2v1h-2zM308 619h1v1h-1zM315 619h1v1h-1zM318 619h2v1h-2zM325 619h1v1h-1z"/><path d="M329.0 615.0h5" stroke="#9a9a9a" stroke-width="1"/><path d="M328.0 615.0l3 -2.5v5z" fill="#9a9a9a"/><path fill="#000" d="M389 586h9v1h-9zM402 586h1v1h-1zM406 586h1v1h-1zM408 586h1v1h-1zM413 586h1v1h-1zM416 586h6v1h-6zM427 586h1v1h-1zM430 586h1v1h-1zM393 587h1v1h-1zM402 587h1v1h-1zM406 587h1v1h-1zM409 587h1v1h-1zM414 587h1v1h-1zM418 587h1v1h-1zM420 587h1v1h-1zM427 587h1v1h-1zM431 587h1v1h-1zM393 588h1v1h-1zM401 588h1v1h-1zM406 588h4v1h-4zM414 588h1v1h-1zM416 588h7v1h-7zM426 588h1v1h-1zM428 588h7v1h-7zM393 589h1v1h-1zM401 589h1v1h-1zM404 589h3v1h-3zM416 589h1v1h-1zM419 589h1v1h-1zM422 589h1v1h-1zM426 589h1v1h-1zM388 590h11v1h-11zM400 590h3v1h-3zM406 590h5v1h-5zM412 590h3v1h-3zM416 590h7v1h-7zM425 590h2v1h-2zM429 590h5v1h-5zM392 591h1v1h-1zM394 591h1v1h-1zM402 591h1v1h-1zM404 591h3v1h-3zM414 591h1v1h-1zM416 591h1v1h-1zM419 591h1v1h-1zM422 591h1v1h-1zM424 591h1v1h-1zM426 591h1v1h-1zM392 592h1v1h-1zM394 592h1v1h-1zM401 592h1v1h-1zM406 592h1v1h-1zM409 592h1v1h-1zM414 592h1v1h-1zM416 592h7v1h-7zM426 592h1v1h-1zM429 592h5v1h-5zM391 593h1v1h-1zM394 593h1v1h-1zM400 593h4v1h-4zM406 593h1v1h-1zM408 593h1v1h-1zM414 593h1v1h-1zM416 593h1v1h-1zM419 593h1v1h-1zM422 593h1v1h-1zM426 593h1v1h-1zM391 594h1v1h-1zM394 594h1v1h-1zM398 594h1v1h-1zM404 594h1v1h-1zM407 594h1v1h-1zM410 594h1v1h-1zM414 594h1v1h-1zM416 594h1v1h-1zM419 594h1v1h-1zM421 594h2v1h-2zM426 594h1v1h-1zM429 594h5v1h-5zM390 595h1v1h-1zM394 595h1v1h-1zM398 595h1v1h-1zM402 595h2v1h-2zM406 595h1v1h-1zM408 595h1v1h-1zM410 595h1v1h-1zM413 595h1v1h-1zM415 595h1v1h-1zM426 595h1v1h-1zM429 595h1v1h-1zM433 595h1v1h-1zM388 596h2v1h-2zM395 596h4v1h-4zM400 596h2v1h-2zM404 596h2v1h-2zM409 596h2v1h-2zM412 596h1v1h-1zM416 596h7v1h-7zM426 596h1v1h-1zM429 596h5v1h-5z"/><path d="M441.5 588.0v4.5h-4.5" fill="none" stroke="#9a9a9a" stroke-width="1"/><path d="M436.0 592.5l2.5 -2v4z" fill="#9a9a9a"/><text x="500.3" y="535.4" font-family="Liberation Sans" font-size="12.0px" textLength="23.6" lengthAdjust="spacingAndGlyphs" fill="#000">GPS</text><path fill="#000" d="M533 526h1v1h-1zM543 526h1v1h-1zM546 526h1v1h-1zM529 527h10v1h-10zM543 527h1v1h-1zM547 527h1v1h-1zM529 528h1v1h-1zM538 528h1v1h-1zM542 528h1v1h-1zM528 529h1v1h-1zM537 529h1v1h-1zM542 529h1v1h-1zM544 529h7v1h-7zM530 530h8v1h-8zM541 530h2v1h-2zM533 531h1v1h-1zM540 531h1v1h-1zM542 531h1v1h-1zM545 531h1v1h-1zM549 531h1v1h-1zM530 532h1v1h-1zM533 532h1v1h-1zM542 532h1v1h-1zM546 532h1v1h-1zM549 532h1v1h-1zM530 533h1v1h-1zM533 533h4v1h-4zM542 533h1v1h-1zM546 533h1v1h-1zM548 533h1v1h-1zM530 534h1v1h-1zM533 534h1v1h-1zM542 534h1v1h-1zM548 534h1v1h-1zM529 535h1v1h-1zM531 535h1v1h-1zM533 535h1v1h-1zM542 535h1v1h-1zM547 535h1v1h-1zM528 536h1v1h-1zM532 536h7v1h-7zM542 536h1v1h-1zM544 536h7v1h-7z"/><path d="M557.5 528.8v4.5h-4.5" fill="none" stroke="#9a9a9a" stroke-width="1"/><path d="M552.0 533.3l2.5 -2v4z" fill="#9a9a9a"/><path fill="#000" d="M493 620h6v1h-6zM500 620h1v1h-1zM510 620h1v1h-1zM524 620h1v1h-1zM534 620h1v1h-1zM542 620h1v1h-1zM545 620h7v1h-7zM558 620h1v1h-1zM494 621h1v1h-1zM497 621h1v1h-1zM500 621h4v1h-4zM510 621h1v1h-1zM518 621h4v1h-4zM524 621h1v1h-1zM529 621h11v1h-11zM543 621h1v1h-1zM545 621h1v1h-1zM548 621h1v1h-1zM551 621h1v1h-1zM554 621h10v1h-10zM493 622h7v1h-7zM501 622h1v1h-1zM510 622h1v1h-1zM524 622h1v1h-1zM534 622h1v1h-1zM545 622h1v1h-1zM547 622h3v1h-3zM551 622h1v1h-1zM554 622h1v1h-1zM557 622h1v1h-1zM560 622h1v1h-1zM494 623h1v1h-1zM496 623h1v1h-1zM498 623h1v1h-1zM500 623h1v1h-1zM502 623h1v1h-1zM506 623h9v1h-9zM523 623h5v1h-5zM533 623h1v1h-1zM535 623h1v1h-1zM541 623h3v1h-3zM545 623h1v1h-1zM548 623h1v1h-1zM551 623h1v1h-1zM554 623h9v1h-9zM493 624h11v1h-11zM510 624h1v1h-1zM514 624h1v1h-1zM517 624h6v1h-6zM524 624h1v1h-1zM527 624h1v1h-1zM531 624h3v1h-3zM536 624h2v1h-2zM543 624h1v1h-1zM545 624h7v1h-7zM554 624h1v1h-1zM557 624h1v1h-1zM560 624h1v1h-1zM510 625h1v1h-1zM514 625h1v1h-1zM519 625h1v1h-1zM524 625h1v1h-1zM527 625h1v1h-1zM529 625h2v1h-2zM534 625h1v1h-1zM538 625h2v1h-2zM543 625h1v1h-1zM545 625h1v1h-1zM551 625h1v1h-1zM554 625h1v1h-1zM557 625h4v1h-4zM494 626h9v1h-9zM509 626h1v1h-1zM514 626h1v1h-1zM519 626h1v1h-1zM524 626h1v1h-1zM527 626h1v1h-1zM543 626h1v1h-1zM545 626h1v1h-1zM547 626h3v1h-3zM551 626h1v1h-1zM554 626h1v1h-1zM509 627h1v1h-1zM514 627h1v1h-1zM518 627h1v1h-1zM521 627h1v1h-1zM524 627h1v1h-1zM527 627h1v1h-1zM532 627h1v1h-1zM534 627h1v1h-1zM538 627h1v1h-1zM543 627h1v1h-1zM545 627h1v1h-1zM547 627h1v1h-1zM549 627h1v1h-1zM551 627h1v1h-1zM554 627h1v1h-1zM556 627h6v1h-6zM495 628h7v1h-7zM508 628h1v1h-1zM514 628h1v1h-1zM517 628h5v1h-5zM523 628h1v1h-1zM527 628h1v1h-1zM530 628h1v1h-1zM532 628h1v1h-1zM535 628h1v1h-1zM537 628h1v1h-1zM539 628h1v1h-1zM543 628h3v1h-3zM547 628h3v1h-3zM551 628h1v1h-1zM554 628h1v1h-1zM557 628h1v1h-1zM560 628h1v1h-1zM495 629h1v1h-1zM501 629h1v1h-1zM507 629h1v1h-1zM514 629h1v1h-1zM521 629h1v1h-1zM523 629h1v1h-1zM527 629h1v1h-1zM530 629h1v1h-1zM532 629h1v1h-1zM537 629h1v1h-1zM539 629h1v1h-1zM543 629h1v1h-1zM545 629h1v1h-1zM551 629h1v1h-1zM553 629h1v1h-1zM558 629h2v1h-2zM495 630h7v1h-7zM506 630h1v1h-1zM511 630h3v1h-3zM522 630h1v1h-1zM525 630h2v1h-2zM529 630h1v1h-1zM533 630h5v1h-5zM544 630h1v1h-1zM549 630h3v1h-3zM553 630h1v1h-1zM555 630h3v1h-3zM560 630h3v1h-3z"/><path d="M565.5 626.0l3 -2.3v4.6z" fill="#9a9a9a"/><rect x="228.0" y="545" width="2" height="2" fill="#000"/><rect x="234.5" y="545" width="2" height="2" fill="#000"/><rect x="241.0" y="545" width="2" height="2" fill="#000"/><rect x="247.5" y="545" width="2" height="2" fill="#000"/><rect x="254.0" y="545" width="2" height="2" fill="#000"/><rect x="260.5" y="545" width="2" height="2" fill="#000"/><path fill="#18a018" d="M226 550h1v1h-1zM227 551h1v1h-1zM228 552h1v1h-1zM229 551h1v1h-1zM230 550h1v1h-1zM231 551h1v1h-1zM232 552h1v1h-1zM233 551h1v1h-1zM234 550h1v1h-1zM235 551h1v1h-1zM236 552h1v1h-1zM237 551h1v1h-1zM238 550h1v1h-1zM239 551h1v1h-1zM240 552h1v1h-1zM241 551h1v1h-1zM242 550h1v1h-1zM243 551h1v1h-1zM244 552h1v1h-1zM245 551h1v1h-1zM246 550h1v1h-1zM247 551h1v1h-1zM248 552h1v1h-1zM249 551h1v1h-1zM250 550h1v1h-1zM251 551h1v1h-1zM252 552h1v1h-1zM253 551h1v1h-1zM254 550h1v1h-1zM255 551h1v1h-1zM256 552h1v1h-1zM257 551h1v1h-1zM258 550h1v1h-1zM259 551h1v1h-1zM260 552h1v1h-1zM261 551h1v1h-1zM262 550h1v1h-1zM263 551h1v1h-1zM264 552h1v1h-1zM265 551h1v1h-1z"/><path d="M273.5 541.0v4.5h-4.5" fill="none" stroke="#9a9a9a" stroke-width="1"/><path d="M268.0 545.5l2.5 -2v4z" fill="#9a9a9a"/></svg></body></html>
